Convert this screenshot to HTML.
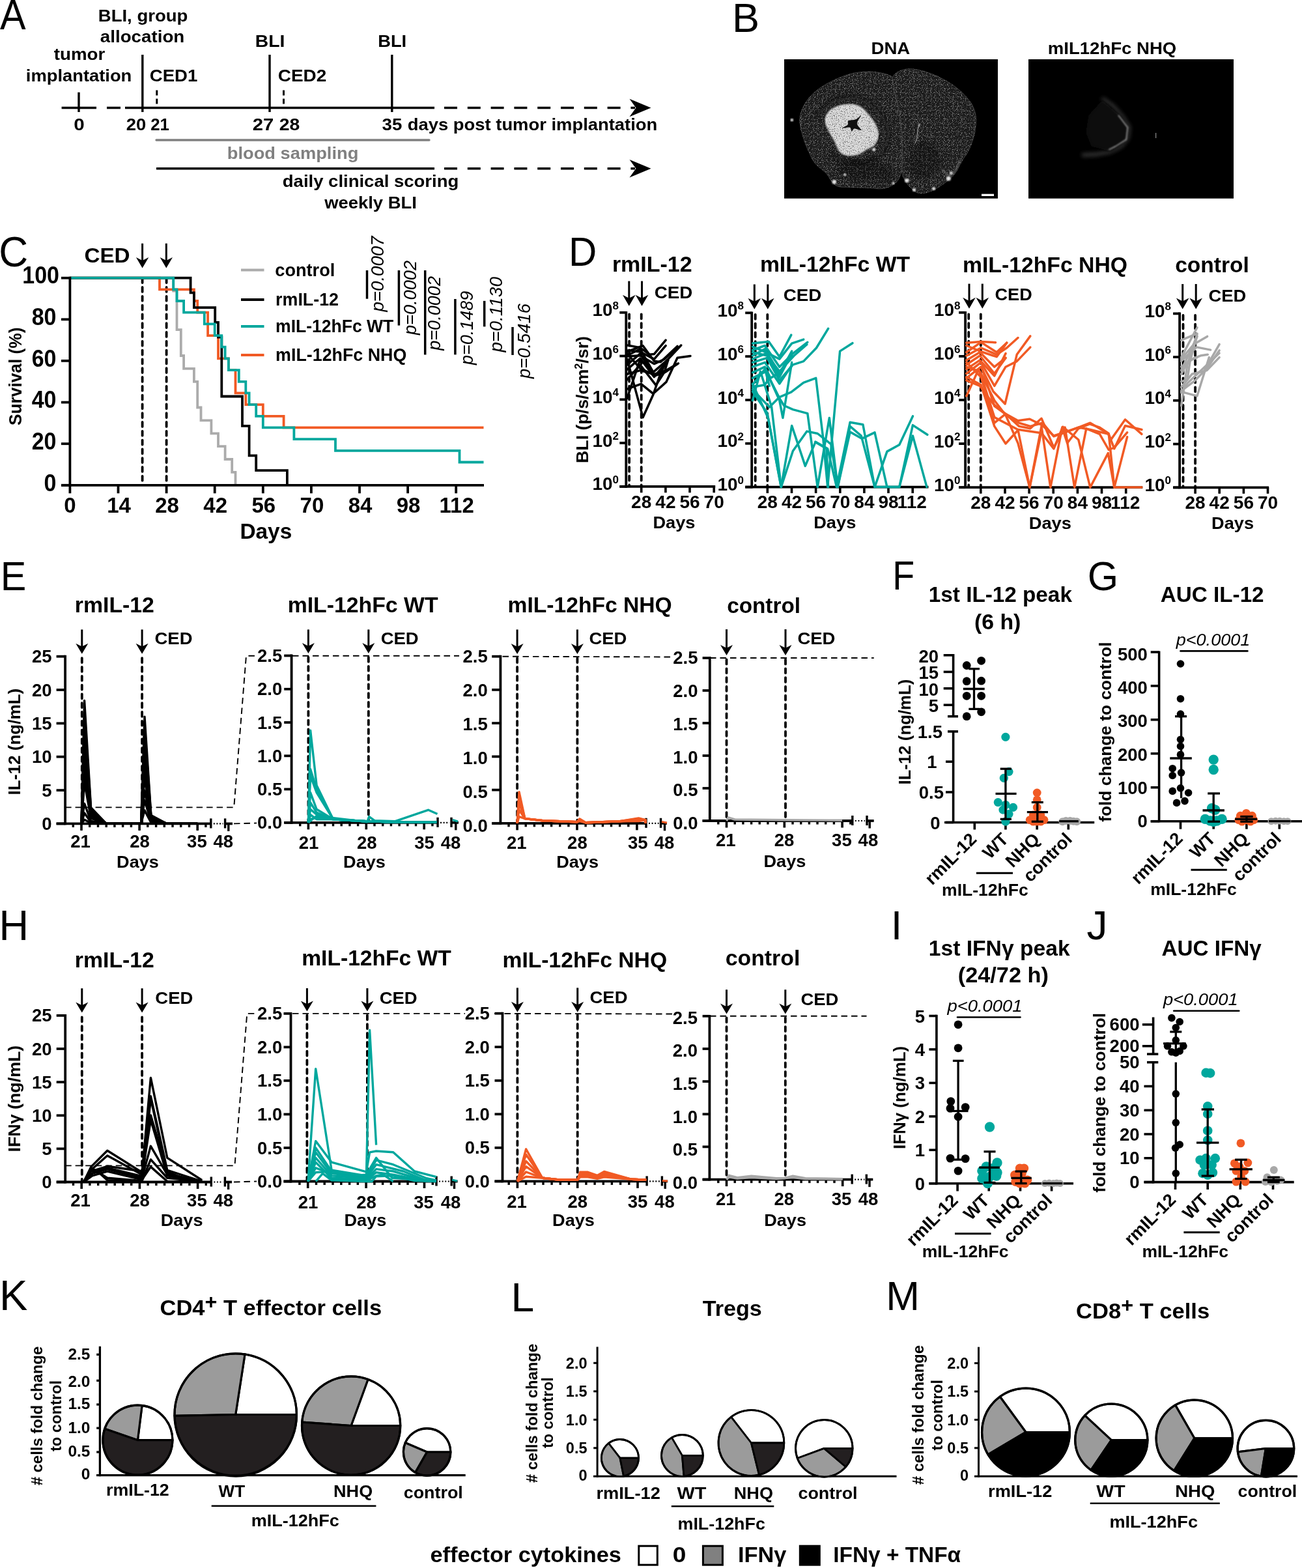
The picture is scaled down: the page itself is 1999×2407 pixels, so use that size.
<!DOCTYPE html>
<html><head><meta charset="utf-8"><title>Figure</title>
<style>html,body{margin:0;padding:0;background:#fff}svg{display:block}text{font-family:"Liberation Sans",sans-serif;font-weight:bold}</style></head>
<body>
<svg width="1999" height="2407" viewBox="0 0 1999 2407">
<rect width="1999" height="2407" fill="#fff"/>
<g id="panelA">
<text x="0.0" y="45.0" font-size="64" style="font-weight:normal;" textLength="39.6" lengthAdjust="spacingAndGlyphs">A</text>
<text x="150.8" y="33.0" font-size="25" textLength="137.5" lengthAdjust="spacingAndGlyphs">BLI, group</text>
<text x="153.8" y="65.0" font-size="25" textLength="129.5" lengthAdjust="spacingAndGlyphs">allocation</text>
<text x="82.8" y="92.0" font-size="25" textLength="78.5" lengthAdjust="spacingAndGlyphs">tumor</text>
<text x="39.8" y="124.5" font-size="25" textLength="162.5" lengthAdjust="spacingAndGlyphs">implantation</text>
<text x="229.8" y="124.5" font-size="25" textLength="73.5" lengthAdjust="spacingAndGlyphs">CED1</text>
<text x="426.8" y="124.5" font-size="25" textLength="74.5" lengthAdjust="spacingAndGlyphs">CED2</text>
<text x="391.8" y="72.0" font-size="25" textLength="45.5" lengthAdjust="spacingAndGlyphs">BLI</text>
<text x="580.2" y="72.0" font-size="25" textLength="44.0" lengthAdjust="spacingAndGlyphs">BLI</text>
<line x1="94.6" y1="165.5" x2="148.0" y2="165.5" stroke="#000" stroke-width="3.4"/>
<line x1="164.0" y1="165.5" x2="213.0" y2="165.5" stroke="#000" stroke-width="3.4" stroke-dasharray="21 7"/>
<line x1="213.0" y1="165.5" x2="667.0" y2="165.5" stroke="#000" stroke-width="3.4"/>
<line x1="682.0" y1="165.5" x2="975.0" y2="165.5" stroke="#000" stroke-width="3.4" stroke-dasharray="20 15.8"/>
<path d="M999.5 165.5 L966.5 151.8 L976.4 165.5 L966.5 179.2 Z" fill="#000"/>
<line x1="121.0" y1="141.7" x2="121.0" y2="172.0" stroke="#000" stroke-width="3.4"/>
<line x1="218.8" y1="84.0" x2="218.8" y2="172.0" stroke="#000" stroke-width="3.4"/>
<line x1="414.0" y1="84.0" x2="414.0" y2="172.0" stroke="#000" stroke-width="3.4"/>
<line x1="601.8" y1="84.0" x2="601.8" y2="172.0" stroke="#000" stroke-width="3.4"/>
<line x1="240.8" y1="138.6" x2="240.8" y2="162.0" stroke="#000" stroke-width="3" stroke-dasharray="8 5"/>
<line x1="435.5" y1="138.6" x2="435.5" y2="162.0" stroke="#000" stroke-width="3" stroke-dasharray="8 5"/>
<text x="113.2" y="199.5" font-size="25" textLength="16.5" lengthAdjust="spacingAndGlyphs">0</text>
<text x="193.8" y="199.5" font-size="25" textLength="30.5" lengthAdjust="spacingAndGlyphs">20</text>
<text x="231.2" y="199.5" font-size="25" textLength="28.7" lengthAdjust="spacingAndGlyphs">21</text>
<text x="387.8" y="199.5" font-size="25" textLength="32.5" lengthAdjust="spacingAndGlyphs">27</text>
<text x="428.8" y="199.5" font-size="25" textLength="31.5" lengthAdjust="spacingAndGlyphs">28</text>
<text x="586.5" y="199.5" font-size="25" textLength="30.8" lengthAdjust="spacingAndGlyphs">35</text>
<text x="625.8" y="199.5" font-size="25" textLength="383.5" lengthAdjust="spacingAndGlyphs">days post tumor implantation</text>
<line x1="240.0" y1="215.0" x2="659.0" y2="215.0" stroke="#808080" stroke-width="3.3" stroke-linecap="round"/>
<text x="348.8" y="243.5" font-size="25" fill="#808080" textLength="201.5" lengthAdjust="spacingAndGlyphs">blood sampling</text>
<line x1="240.0" y1="258.7" x2="667.0" y2="258.7" stroke="#000" stroke-width="3.4"/>
<line x1="682.0" y1="258.7" x2="975.0" y2="258.7" stroke="#000" stroke-width="3.4" stroke-dasharray="20 15.8"/>
<path d="M999.5 258.7 L966.5 245.0 L976.4 258.7 L966.5 272.4 Z" fill="#000"/>
<text x="433.8" y="287.0" font-size="25" textLength="270.5" lengthAdjust="spacingAndGlyphs">daily clinical scoring</text>
<text x="498.2" y="320.0" font-size="25" textLength="141.6" lengthAdjust="spacingAndGlyphs">weekly BLI</text>
</g>
<g id="panelB">
<text x="1124.0" y="49.0" font-size="63" style="font-weight:normal;">B</text>
<text x="1337.5" y="82.5" font-size="25" textLength="59.8" lengthAdjust="spacingAndGlyphs">DNA</text>
<text x="1608.8" y="82.5" font-size="25" textLength="197.5" lengthAdjust="spacingAndGlyphs">mIL12hFc NHQ</text>
<defs>
<filter id="spk" x="0" y="0" width="100%" height="100%"><feTurbulence type="fractalNoise" baseFrequency="0.85" numOctaves="1" seed="3" result="n"/>
<feColorMatrix in="n" type="matrix" values="0 0 0 0 0  0 0 0 0 0  0 0 0 0 0  5 0 0 0 -2.85" result="a"/>
<feComposite in="a" in2="SourceGraphic" operator="in" result="m"/>
<feFlood flood-color="#9a9a9a" result="w"/><feComposite in="w" in2="m" operator="in" result="dots"/>
<feMerge><feMergeNode in="SourceGraphic"/><feMergeNode in="dots"/></feMerge></filter>
<filter id="spk2" x="0" y="0" width="100%" height="100%"><feTurbulence type="fractalNoise" baseFrequency="0.7" numOctaves="2" seed="8" result="n"/>
<feColorMatrix in="n" type="matrix" values="0 0 0 0 0  0 0 0 0 0  0 0 0 0 0  4 0 0 0 -2.05" result="a"/>
<feComposite in="a" in2="SourceGraphic" operator="in" result="m"/>
<feFlood flood-color="#4a4a4a" result="w"/><feComposite in="w" in2="m" operator="in" result="dots"/>
<feMerge><feMergeNode in="SourceGraphic"/><feMergeNode in="dots"/></feMerge></filter>
<filter id="bl1"><feGaussianBlur stdDeviation="1.2"/></filter>
<filter id="bl3"><feGaussianBlur stdDeviation="3"/></filter>
<radialGradient id="arcg" cx="0.2" cy="0.5" r="0.8"><stop offset="0.75" stop-color="#000"/><stop offset="0.93" stop-color="#6a6a6a"/><stop offset="1" stop-color="#000"/></radialGradient>
</defs>
<rect x="1204.0" y="91.0" width="328.0" height="213.7" fill="#000"/>
<g filter="url(#spk)">
<path d="M1369.6 118.2 C1365.4 114.4 1355.5 112.2 1346.9 111.0 C1338.3 109.8 1327.6 109.6 1318.0 111.0 C1308.3 112.3 1299.0 115.1 1289.1 119.2 C1279.1 123.3 1266.7 129.5 1258.1 135.7 C1249.5 141.9 1242.5 149.1 1237.5 156.4 C1232.5 163.6 1229.6 172.5 1228.2 179.1 C1226.8 185.6 1228.2 189.7 1229.2 195.6 C1230.2 201.4 1232.3 208.0 1234.4 214.2 C1236.4 220.4 1238.7 226.5 1241.6 232.7 C1244.5 238.9 1247.4 245.8 1251.9 251.3 C1256.4 256.8 1264.3 261.3 1268.4 265.8 C1272.6 270.2 1273.6 274.7 1276.7 278.1 C1279.8 281.6 1282.2 284.9 1287.0 286.4 C1291.8 287.9 1297.7 287.1 1305.6 287.4 C1313.5 287.8 1326.2 288.1 1334.5 288.5 C1342.7 288.8 1348.9 290.4 1355.1 289.5 C1361.3 288.6 1367.2 286.6 1371.6 283.3 C1376.1 280.0 1379.7 276.9 1382.0 269.9 C1384.2 262.8 1384.7 252.0 1385.0 241.0 C1385.4 230.0 1385.0 216.2 1384.0 203.8 C1383.0 191.5 1380.9 178.4 1378.9 166.7 C1376.8 155.0 1373.2 141.7 1371.6 133.7 C1370.1 125.6 1373.7 122.0 1369.6 118.2 Z" fill="#1e1e1e" stroke="#4a4a4a" stroke-width="0.8"/>
<path d="M1370.6 118.2 C1372.1 114.1 1377.0 111.0 1382.0 108.9 C1386.9 106.8 1392.6 105.1 1400.5 105.8 C1408.4 106.5 1419.8 109.4 1429.4 113.0 C1439.1 116.6 1450.1 122.3 1458.3 127.5 C1466.6 132.6 1473.1 138.1 1479.0 144.0 C1484.8 149.8 1490.1 156.0 1493.4 162.6 C1496.7 169.1 1498.2 175.6 1498.6 183.2 C1498.9 190.8 1497.4 200.1 1495.5 208.0 C1493.6 215.9 1490.3 224.1 1487.2 230.7 C1484.1 237.2 1480.3 241.3 1476.9 247.2 C1473.5 253.0 1470.4 260.6 1466.6 265.8 C1462.8 270.9 1460.0 273.7 1454.2 278.1 C1448.3 282.6 1438.7 289.5 1431.5 292.6 C1424.3 295.7 1416.7 297.8 1410.8 296.7 C1405.0 295.7 1400.0 289.8 1396.4 286.4 C1392.8 283.0 1391.1 279.5 1389.2 276.1 C1387.3 272.6 1385.6 271.6 1385.0 265.8 C1384.5 259.9 1385.7 251.3 1385.7 241.0 C1385.7 230.7 1386.0 216.2 1385.0 203.8 C1384.1 191.5 1382.0 178.4 1379.9 166.7 C1377.8 155.0 1374.2 141.7 1372.7 133.7 C1371.1 125.6 1369.1 122.3 1370.6 118.2 Z" fill="#1c1c1c" stroke="#4a4a4a" stroke-width="0.8"/>
</g>
<path d="M1251.9 177.0 L1272.6 156.4 L1305.6 148.1 L1334.5 156.4 L1355.1 177.0 L1365.4 201.8 L1361.3 224.5 L1346.9 243.1 L1322.1 249.2 L1293.2 249.2 L1276.7 236.9" fill="none" stroke="#0c0c0c" stroke-opacity="0.55" stroke-width="5" filter="url(#bl3)"/>
<path d="M1287.0 251.3 L1313.8 245.1 L1355.1 249.2 L1375.8 265.8 L1367.5 278.1 L1313.8 278.1 L1289.1 265.8 Z" fill="#000" fill-opacity="0.28" filter="url(#bl3)"/>
<path d="M1396.4 224.5 L1417.0 214.2 L1437.7 224.5 L1448.0 255.4 L1417.0 276.1 L1396.4 265.8 Z" fill="#000" fill-opacity="0.28" filter="url(#bl3)"/>
<g filter="url(#spk2)">
<path d="M1272.6 170.8 C1276.0 167.0 1281.5 164.5 1287.0 162.6 C1292.5 160.7 1299.7 159.1 1305.6 159.5 C1311.4 159.8 1317.3 161.7 1322.1 164.6 C1326.9 167.5 1330.7 172.5 1334.5 177.0 C1338.3 181.5 1342.4 186.3 1344.8 191.5 C1347.2 196.6 1349.3 202.8 1348.9 208.0 C1348.6 213.1 1345.5 219.0 1342.7 222.4 C1340.0 225.9 1336.5 226.2 1332.4 228.6 C1328.3 231.0 1323.1 235.1 1318.0 236.9 C1312.8 238.6 1306.3 239.6 1301.5 238.9 C1296.6 238.2 1292.5 236.5 1289.1 232.7 C1285.6 229.0 1283.6 221.4 1280.8 216.2 C1278.1 211.1 1275.0 206.9 1272.6 201.8 C1270.2 196.6 1266.4 190.4 1266.4 185.3 C1266.4 180.1 1269.1 174.6 1272.6 170.8 Z" fill="#dcdcdc" filter="url(#bl1)"/>
</g>
<path d="M1302.5 185.3 C1304.6 183.9 1310.6 184.6 1313.8 183.2 C1317.1 181.8 1321.8 176.0 1322.1 177.0 C1322.4 178.0 1315.9 185.6 1315.9 189.4 C1315.9 193.2 1322.8 198.3 1322.1 199.7 C1321.4 201.1 1314.2 197.3 1311.8 197.6 C1309.4 198.0 1308.9 202.1 1307.6 201.8 C1306.4 201.4 1307.0 196.4 1304.6 195.6 C1302.1 194.7 1293.7 197.3 1293.2 196.6 C1292.7 195.9 1299.9 193.3 1301.5 191.5 C1303.0 189.6 1300.4 186.6 1302.5 185.3 Z" fill="#111" />
<path d="M1258.1 172.9 L1282.9 154.3 L1313.8 150.2 L1338.6 162.6 L1357.2 183.2 L1365.4 203.8 L1359.2 224.5 L1346.9 238.9" fill="none" stroke="#3a3a3a" stroke-width="1.5" filter="url(#bl1)"/>
<circle cx="1280.8" cy="279.2" r="3.2" fill="#e8e8e8" filter="url(#bl1)"/>
<circle cx="1297.3" cy="268.2" r="2" fill="#e8e8e8" filter="url(#bl1)"/>
<circle cx="1392.3" cy="277.1" r="3.2" fill="#e8e8e8" filter="url(#bl1)"/>
<circle cx="1403.6" cy="291.6" r="2.5" fill="#e8e8e8" filter="url(#bl1)"/>
<circle cx="1433.6" cy="289.5" r="2.5" fill="#e8e8e8" filter="url(#bl1)"/>
<circle cx="1456.3" cy="274.0" r="3.5" fill="#e8e8e8" filter="url(#bl1)"/>
<circle cx="1460.4" cy="265.8" r="2.5" fill="#e8e8e8" filter="url(#bl1)"/>
<circle cx="1371.6" cy="281.2" r="2" fill="#e8e8e8" filter="url(#bl1)"/>
<circle cx="1215.8" cy="184.2" r="2.2" fill="#e8e8e8" filter="url(#bl1)"/>
<circle cx="1341.7" cy="229.6" r="2.5" fill="#e8e8e8" filter="url(#bl1)"/>
<circle cx="1410.8" cy="192.5" r="1.5" fill="#e8e8e8" filter="url(#bl1)"/>
<path d="M1412.9 189.4 L1409.2 197.6 L1407.8 212.1 L1404.7 220.4" fill="none" stroke="#999" stroke-width="1.2"/>
<path d="M1445.9 259.6 L1456.3 269.9 L1464.5 265.8 L1474.8 245.1" fill="none" stroke="#777" stroke-width="1.5" filter="url(#bl1)"/>
<rect x="1507.0" y="297.7" width="19.0" height="3.3" fill="#fff"/>
<rect x="1579.0" y="91.0" width="315.0" height="213.7" fill="#000"/>
<path d="M1692.1 151.2 L1708.6 162.6 L1723.1 179.1 L1733.4 195.6 L1731.3 212.1 L1721.0 224.5 L1704.5 232.7 L1683.8 236.9 L1661.1 237.9" fill="none" stroke="#4a4a4a" stroke-width="4" filter="url(#bl3)" stroke-linejoin="round"/>
<path d="M1716.9 177.0 L1731.3 195.6 L1729.2 214.2 L1712.7 224.5 L1702.4 229.6" fill="none" stroke="#777" stroke-width="2" filter="url(#bl1)" stroke-linejoin="round"/>
<path d="M1692.1 154.3 L1721.0 179.1 L1731.3 197.6 L1729.2 214.2 L1704.5 231.7 L1675.6 224.5 L1667.3 203.8 L1671.5 177.0 Z" fill="#101010" filter="url(#bl3)"/>
<path d="M1716.9 177.0 L1731.3 195.6 L1729.2 214.2 L1712.7 224.5 L1702.4 229.6" fill="none" stroke="#8a8a8a" stroke-width="1.4" filter="url(#bl1)" stroke-linejoin="round"/>
<line x1="1774.7" y1="204.0" x2="1774.7" y2="212.0" stroke="#aaa" stroke-width="1"/>
</g>
<g id="panelC">
<text x="-1.7" y="409.3" font-size="64" style="font-weight:normal;" textLength="44.9" lengthAdjust="spacingAndGlyphs">C</text>
<line x1="218.6" y1="427.2" x2="218.6" y2="742.8" stroke="#000" stroke-width="3.8" stroke-dasharray="6.9 6.9" stroke-linecap="round"/>
<line x1="255.6" y1="427.2" x2="255.6" y2="742.8" stroke="#000" stroke-width="3.8" stroke-dasharray="6.9 6.9" stroke-linecap="round"/>
<path d="M107.4 426.7 L266.2 426.7 L266.2 446.6 L271.5 446.6 L271.5 506.2 L277.8 506.2 L277.8 546.0 L282.1 546.0 L282.1 565.9 L297.9 565.9 L297.9 585.8 L303.2 585.8 L303.2 625.5 L308.5 625.5 L308.5 645.4 L324.4 645.4 L324.4 665.3 L335.0 665.3 L335.0 685.2 L345.6 685.2 L345.6 705.0 L356.2 705.0 L356.2 724.9 L361.5 724.9 L361.5 744.8" stroke="#ABABAB" stroke-width="3.8" fill="none" stroke-linejoin="miter"/>
<path d="M107.4 426.7 L245.0 426.7 L245.0 444.4 L297.9 444.4 L297.9 462.0 L303.2 462.0 L303.2 479.7 L319.1 479.7 L319.1 515.1 L335.0 515.1 L335.0 550.4 L350.9 550.4 L350.9 568.1 L361.5 568.1 L361.5 603.4 L377.3 603.4 L377.3 621.1 L403.8 621.1 L403.8 638.8 L435.6 638.8 L435.6 656.4 L742.5 656.4" stroke="#F15A24" stroke-width="3.8" fill="none" stroke-linejoin="miter"/>
<path d="M107.4 426.7 L292.6 426.7 L292.6 449.4 L297.9 449.4 L297.9 472.1 L330.2 472.1 L330.2 494.9 L335.0 494.9 L335.0 517.6 L340.3 517.6 L340.3 608.5 L372.0 608.5 L372.0 653.9 L382.6 653.9 L382.6 699.4 L393.2 699.4 L393.2 722.1 L440.9 722.1 L440.9 744.8" stroke="#000" stroke-width="3.8" fill="none" stroke-linejoin="miter"/>
<path d="M107.4 426.7 L266.2 426.7 L266.2 444.4 L271.5 444.4 L271.5 462.0 L282.1 462.0 L282.1 479.7 L313.8 479.7 L313.8 497.4 L329.7 497.4 L329.7 515.1 L340.3 515.1 L340.3 532.7 L345.6 532.7 L345.6 550.4 L350.9 550.4 L350.9 568.1 L366.8 568.1 L366.8 585.8 L377.3 585.8 L377.3 603.4 L382.6 603.4 L382.6 621.1 L393.2 621.1 L393.2 638.8 L403.8 638.8 L403.8 656.4 L451.4 656.4 L451.4 674.1 L515.0 674.1 L515.0 691.8 L705.5 691.8 L705.5 709.5 L742.5 709.5" stroke="#00A79D" stroke-width="3.8" fill="none" stroke-linejoin="miter"/>
<line x1="107.4" y1="424.8" x2="107.4" y2="746.7" stroke="#000" stroke-width="3.8"/>
<line x1="94.0" y1="744.8" x2="743.0" y2="744.8" stroke="#000" stroke-width="3.8"/>
<line x1="94.0" y1="744.8" x2="107.4" y2="744.8" stroke="#000" stroke-width="3.8"/>
<text x="67.6" y="753.5" font-size="36.5" textLength="18.9" lengthAdjust="spacingAndGlyphs">0</text>
<line x1="94.0" y1="681.2" x2="107.4" y2="681.2" stroke="#000" stroke-width="3.8"/>
<text x="48.7" y="689.9" font-size="36.5" textLength="37.8" lengthAdjust="spacingAndGlyphs">20</text>
<line x1="94.0" y1="617.6" x2="107.4" y2="617.6" stroke="#000" stroke-width="3.8"/>
<text x="48.7" y="626.3" font-size="36.5" textLength="37.8" lengthAdjust="spacingAndGlyphs">40</text>
<line x1="94.0" y1="553.9" x2="107.4" y2="553.9" stroke="#000" stroke-width="3.8"/>
<text x="48.7" y="562.6" font-size="36.5" textLength="37.8" lengthAdjust="spacingAndGlyphs">60</text>
<line x1="94.0" y1="490.3" x2="107.4" y2="490.3" stroke="#000" stroke-width="3.8"/>
<text x="48.7" y="499.0" font-size="36.5" textLength="37.8" lengthAdjust="spacingAndGlyphs">80</text>
<line x1="94.0" y1="426.7" x2="107.4" y2="426.7" stroke="#000" stroke-width="3.8"/>
<text x="34.3" y="435.4" font-size="36.5" textLength="56.7" lengthAdjust="spacingAndGlyphs">100</text>
<line x1="107.4" y1="744.8" x2="107.4" y2="757.3" stroke="#000" stroke-width="3.8"/>
<text x="107.4" y="786.9" font-size="33" text-anchor="middle">0</text>
<line x1="181.5" y1="744.8" x2="181.5" y2="757.3" stroke="#000" stroke-width="3.8"/>
<text x="182.5" y="786.9" font-size="33" text-anchor="middle">14</text>
<line x1="255.6" y1="744.8" x2="255.6" y2="757.3" stroke="#000" stroke-width="3.8"/>
<text x="256.6" y="786.9" font-size="33" text-anchor="middle">28</text>
<line x1="329.7" y1="744.8" x2="329.7" y2="757.3" stroke="#000" stroke-width="3.8"/>
<text x="330.7" y="786.9" font-size="33" text-anchor="middle">42</text>
<line x1="403.8" y1="744.8" x2="403.8" y2="757.3" stroke="#000" stroke-width="3.8"/>
<text x="404.8" y="786.9" font-size="33" text-anchor="middle">56</text>
<line x1="477.9" y1="744.8" x2="477.9" y2="757.3" stroke="#000" stroke-width="3.8"/>
<text x="478.9" y="786.9" font-size="33" text-anchor="middle">70</text>
<line x1="552.0" y1="744.8" x2="552.0" y2="757.3" stroke="#000" stroke-width="3.8"/>
<text x="553.0" y="786.9" font-size="33" text-anchor="middle">84</text>
<line x1="626.1" y1="744.8" x2="626.1" y2="757.3" stroke="#000" stroke-width="3.8"/>
<text x="627.1" y="786.9" font-size="33" text-anchor="middle">98</text>
<line x1="700.2" y1="744.8" x2="700.2" y2="757.3" stroke="#000" stroke-width="3.8"/>
<text x="701.2" y="786.9" font-size="33" text-anchor="middle">112</text>
<text x="368.4" y="826.7" font-size="33" textLength="79.8" lengthAdjust="spacingAndGlyphs">Days</text>
<text x="33.4" y="653.0" font-size="27" transform="rotate(-90 33.4 653.0)" textLength="150.5" lengthAdjust="spacingAndGlyphs">Survival (%)</text>
<text x="129.4" y="403.0" font-size="32" textLength="70.2" lengthAdjust="spacingAndGlyphs">CED</text>
<line x1="218.6" y1="373.7" x2="218.6" y2="401.7" stroke="#000" stroke-width="3"/>
<path d="M218.6 411.6 L208.9 395.1 L218.6 400.1 L228.3 395.1 Z" fill="#000"/>
<line x1="255.3" y1="373.7" x2="255.3" y2="401.7" stroke="#000" stroke-width="3"/>
<path d="M255.3 411.6 L245.6 395.1 L255.3 400.1 L265.0 395.1 Z" fill="#000"/>
<line x1="370.0" y1="414.5" x2="405.5" y2="414.5" stroke="#ABABAB" stroke-width="3.8"/>
<line x1="370.0" y1="460.0" x2="405.5" y2="460.0" stroke="#000" stroke-width="3.8"/>
<line x1="370.0" y1="501.0" x2="405.5" y2="501.0" stroke="#00A79D" stroke-width="3.8"/>
<line x1="370.0" y1="545.0" x2="405.5" y2="545.0" stroke="#F15A24" stroke-width="3.8"/>
<text x="422.3" y="423.9" font-size="27" textLength="92.0" lengthAdjust="spacingAndGlyphs">control</text>
<text x="423.1" y="468.7" font-size="27" textLength="96.9" lengthAdjust="spacingAndGlyphs">rmIL-12</text>
<text x="423.1" y="510.0" font-size="27" textLength="181.2" lengthAdjust="spacingAndGlyphs">mIL-12hFc WT</text>
<text x="423.1" y="553.6" font-size="27" textLength="201.2" lengthAdjust="spacingAndGlyphs">mIL-12hFc NHQ</text>
<line x1="563.5" y1="415.0" x2="563.5" y2="458.7" stroke="#000" stroke-width="3.5"/>
<line x1="612.4" y1="415.0" x2="612.4" y2="499.6" stroke="#000" stroke-width="3.5"/>
<line x1="652.7" y1="415.0" x2="652.7" y2="544.4" stroke="#000" stroke-width="3.5"/>
<line x1="698.9" y1="459.0" x2="698.9" y2="544.4" stroke="#000" stroke-width="3.5"/>
<line x1="743.7" y1="461.9" x2="743.7" y2="501.4" stroke="#000" stroke-width="3.5"/>
<line x1="787.0" y1="502.0" x2="787.0" y2="545.0" stroke="#000" stroke-width="3.5"/>
<text x="588.6" y="478.5" font-size="27" style="font-weight:normal;font-style:italic;" transform="rotate(-90 588.6 478.5)" textLength="116.1" lengthAdjust="spacingAndGlyphs">p=0.0007</text>
<text x="638.7" y="514.0" font-size="27" style="font-weight:normal;font-style:italic;" transform="rotate(-90 638.7 514.0)" textLength="114.0" lengthAdjust="spacingAndGlyphs">p=0.0002</text>
<text x="676.4" y="537.8" font-size="27" style="font-weight:normal;font-style:italic;" transform="rotate(-90 676.4 537.8)" textLength="113.8" lengthAdjust="spacingAndGlyphs">p=0.0002</text>
<text x="725.8" y="560.0" font-size="27" style="font-weight:normal;font-style:italic;" transform="rotate(-90 725.8 560.0)" textLength="113.2" lengthAdjust="spacingAndGlyphs">p=0.1489</text>
<text x="770.6" y="540.5" font-size="27" style="font-weight:normal;font-style:italic;" transform="rotate(-90 770.6 540.5)" textLength="115.5" lengthAdjust="spacingAndGlyphs">p=0.1130</text>
<text x="813.6" y="581.0" font-size="27" style="font-weight:normal;font-style:italic;" transform="rotate(-90 813.6 581.0)" textLength="115.0" lengthAdjust="spacingAndGlyphs">p=0.5416</text>
</g>
<g id="panelD">
<text x="872.9" y="408.0" font-size="63" style="font-weight:normal;" textLength="43.3" lengthAdjust="spacingAndGlyphs">D</text>
<text x="903.0" y="711.0" font-size="26" transform="rotate(-90 903.0 711.0)" textLength="195.0" lengthAdjust="spacingAndGlyphs">BLI (p/s/cm<tspan font-size="16" dy="-9">2</tspan><tspan dy="9">/sr)</tspan></text>
<line x1="966.1" y1="482.3" x2="966.1" y2="744.8" stroke="#000" stroke-width="3.8" stroke-dasharray="6.9 6.9" stroke-linecap="round"/>
<line x1="984.7" y1="482.3" x2="984.7" y2="744.8" stroke="#000" stroke-width="3.8" stroke-dasharray="6.9 6.9" stroke-linecap="round"/>
<line x1="961.3" y1="477.9" x2="961.3" y2="748.7" stroke="#000" stroke-width="3.8"/>
<line x1="951.3" y1="746.8" x2="1098.2" y2="746.8" stroke="#000" stroke-width="3.8"/>
<line x1="951.3" y1="479.8" x2="961.3" y2="479.8" stroke="#000" stroke-width="3.8"/>
<text x="950.0" y="485.3" font-size="28" text-anchor="end">10<tspan font-size="17" dy="-10.5">8</tspan></text>
<line x1="951.3" y1="546.5" x2="961.3" y2="546.5" stroke="#000" stroke-width="3.8"/>
<text x="950.0" y="552.0" font-size="28" text-anchor="end">10<tspan font-size="17" dy="-10.5">6</tspan></text>
<line x1="951.3" y1="613.3" x2="961.3" y2="613.3" stroke="#000" stroke-width="3.8"/>
<text x="950.0" y="618.8" font-size="28" text-anchor="end">10<tspan font-size="17" dy="-10.5">4</tspan></text>
<line x1="951.3" y1="680.0" x2="961.3" y2="680.0" stroke="#000" stroke-width="3.8"/>
<text x="950.0" y="685.5" font-size="28" text-anchor="end">10<tspan font-size="17" dy="-10.5">2</tspan></text>
<line x1="951.3" y1="746.8" x2="961.3" y2="746.8" stroke="#000" stroke-width="3.8"/>
<text x="950.0" y="752.3" font-size="28" text-anchor="end">10<tspan font-size="17" dy="-10.5">0</tspan></text>
<line x1="984.7" y1="746.8" x2="984.7" y2="756.3" stroke="#000" stroke-width="3.6"/>
<line x1="1021.9" y1="746.8" x2="1021.9" y2="756.3" stroke="#000" stroke-width="3.6"/>
<line x1="1059.0" y1="746.8" x2="1059.0" y2="756.3" stroke="#000" stroke-width="3.6"/>
<line x1="1096.2" y1="746.8" x2="1096.2" y2="756.3" stroke="#000" stroke-width="3.6"/>
<path d="M962.9 530.0 L982.9 533.6 L997.1 544.3 L1004.3 543.6 L1022.1 522.1" stroke="#000" stroke-width="3.5" fill="none" stroke-linejoin="round" stroke-linecap="round"/>
<path d="M962.9 537.9 L982.9 540.0 L1004.3 551.4 L1022.1 530.7" stroke="#000" stroke-width="3.5" fill="none" stroke-linejoin="round" stroke-linecap="round"/>
<path d="M962.9 540.0 L987.1 530.7 L1004.3 554.3 L1014.3 555.7 L1040.0 531.4" stroke="#000" stroke-width="3.5" fill="none" stroke-linejoin="round" stroke-linecap="round"/>
<path d="M962.9 545.7 L982.9 535.7 L1002.9 571.4 L1024.3 552.9 L1045.7 530.0" stroke="#000" stroke-width="3.5" fill="none" stroke-linejoin="round" stroke-linecap="round"/>
<path d="M962.9 547.1 L982.9 545.7 L1004.3 558.6 L1020.0 551.4 L1040.0 532.9" stroke="#000" stroke-width="3.5" fill="none" stroke-linejoin="round" stroke-linecap="round"/>
<path d="M962.9 560.0 L982.9 542.9 L1004.3 577.1 L1021.4 571.4 L1041.4 557.9" stroke="#000" stroke-width="3.5" fill="none" stroke-linejoin="round" stroke-linecap="round"/>
<path d="M962.9 567.1 L982.9 550.0 L1004.3 578.6 L1025.7 552.9" stroke="#000" stroke-width="3.5" fill="none" stroke-linejoin="round" stroke-linecap="round"/>
<path d="M962.9 574.3 L982.9 568.6 L1004.3 574.3 L1022.9 568.6 L1040.0 558.6" stroke="#000" stroke-width="3.5" fill="none" stroke-linejoin="round" stroke-linecap="round"/>
<path d="M962.9 582.9 L982.9 560.0 L1007.1 591.4 L1020.0 571.4 L1025.7 552.9" stroke="#000" stroke-width="3.5" fill="none" stroke-linejoin="round" stroke-linecap="round"/>
<path d="M962.9 597.1 L984.3 589.3 L1002.9 604.3 L1022.9 586.4 L1040.0 549.3 L1060.0 546.4" stroke="#000" stroke-width="3.5" fill="none" stroke-linejoin="round" stroke-linecap="round"/>
<path d="M962.9 611.4 L982.9 551.4 L1002.9 572.9" stroke="#000" stroke-width="3.5" fill="none" stroke-linejoin="round" stroke-linecap="round"/>
<path d="M962.9 551.4 L987.1 640.7 L1002.9 605.7 L1014.3 572.9 L1024.3 552.9" stroke="#000" stroke-width="3.5" fill="none" stroke-linejoin="round" stroke-linecap="round"/>
<path d="M962.9 542.9 L982.9 565.7 L1004.3 575.7" stroke="#000" stroke-width="3.5" fill="none" stroke-linejoin="round" stroke-linecap="round"/>
<text x="939.9" y="417.0" font-size="33" textLength="122.8" lengthAdjust="spacingAndGlyphs">rmIL-12</text>
<text x="984.7" y="779.7" font-size="28" text-anchor="middle">28</text>
<text x="1021.9" y="779.7" font-size="28" text-anchor="middle">42</text>
<text x="1059.0" y="779.7" font-size="28" text-anchor="middle">56</text>
<text x="1096.2" y="779.7" font-size="28" text-anchor="middle">70</text>
<text x="1002.4" y="810.6" font-size="26" textLength="65.1" lengthAdjust="spacingAndGlyphs">Days</text>
<text x="1004.7" y="458.0" font-size="26" textLength="58.6" lengthAdjust="spacingAndGlyphs">CED</text>
<line x1="965.8" y1="431.5" x2="965.8" y2="459.5" stroke="#000" stroke-width="3"/>
<path d="M965.8 469.7 L956.0 452.7 L965.8 457.8 L975.6 452.7 Z" fill="#000"/>
<line x1="985.5" y1="431.5" x2="985.5" y2="459.5" stroke="#000" stroke-width="3"/>
<path d="M985.5 469.7 L975.7 452.7 L985.5 457.8 L995.3 452.7 Z" fill="#000"/>
<line x1="1159.7" y1="482.8" x2="1159.7" y2="745.6" stroke="#000" stroke-width="3.8" stroke-dasharray="6.9 6.9" stroke-linecap="round"/>
<line x1="1178.3" y1="482.8" x2="1178.3" y2="745.6" stroke="#000" stroke-width="3.8" stroke-dasharray="6.9 6.9" stroke-linecap="round"/>
<line x1="1154.2" y1="478.4" x2="1154.2" y2="749.5" stroke="#000" stroke-width="3.8"/>
<line x1="1144.2" y1="747.6" x2="1425.5" y2="747.6" stroke="#000" stroke-width="3.8"/>
<line x1="1144.2" y1="480.3" x2="1154.2" y2="480.3" stroke="#000" stroke-width="3.8"/>
<text x="1142.0" y="485.8" font-size="28" text-anchor="end">10<tspan font-size="17" dy="-10.5">8</tspan></text>
<line x1="1144.2" y1="547.1" x2="1154.2" y2="547.1" stroke="#000" stroke-width="3.8"/>
<text x="1142.0" y="552.6" font-size="28" text-anchor="end">10<tspan font-size="17" dy="-10.5">6</tspan></text>
<line x1="1144.2" y1="614.0" x2="1154.2" y2="614.0" stroke="#000" stroke-width="3.8"/>
<text x="1142.0" y="619.5" font-size="28" text-anchor="end">10<tspan font-size="17" dy="-10.5">4</tspan></text>
<line x1="1144.2" y1="680.8" x2="1154.2" y2="680.8" stroke="#000" stroke-width="3.8"/>
<text x="1142.0" y="686.3" font-size="28" text-anchor="end">10<tspan font-size="17" dy="-10.5">2</tspan></text>
<line x1="1144.2" y1="747.6" x2="1154.2" y2="747.6" stroke="#000" stroke-width="3.8"/>
<text x="1142.0" y="753.1" font-size="28" text-anchor="end">10<tspan font-size="17" dy="-10.5">0</tspan></text>
<line x1="1178.3" y1="747.6" x2="1178.3" y2="757.1" stroke="#000" stroke-width="3.6"/>
<line x1="1215.5" y1="747.6" x2="1215.5" y2="757.1" stroke="#000" stroke-width="3.6"/>
<line x1="1252.6" y1="747.6" x2="1252.6" y2="757.1" stroke="#000" stroke-width="3.6"/>
<line x1="1289.8" y1="747.6" x2="1289.8" y2="757.1" stroke="#000" stroke-width="3.6"/>
<line x1="1326.9" y1="747.6" x2="1326.9" y2="757.1" stroke="#000" stroke-width="3.6"/>
<line x1="1364.0" y1="747.6" x2="1364.0" y2="757.1" stroke="#000" stroke-width="3.6"/>
<line x1="1401.2" y1="747.6" x2="1401.2" y2="757.1" stroke="#000" stroke-width="3.6"/>
<path d="M1155.5 527.1 L1180.4 524.5 L1196.8 547.7 L1214.8 514.2" stroke="#00A79D" stroke-width="3.5" fill="none" stroke-linejoin="round" stroke-linecap="round"/>
<path d="M1155.5 532.2 L1176.1 540.8 L1196.8 551.2 L1215.7 527.1 L1233.7 521.1" stroke="#00A79D" stroke-width="3.5" fill="none" stroke-linejoin="round" stroke-linecap="round"/>
<path d="M1155.5 537.4 L1174.4 530.5 L1196.8 563.2 L1217.4 542.6 L1239.8 525.4" stroke="#00A79D" stroke-width="3.5" fill="none" stroke-linejoin="round" stroke-linecap="round"/>
<path d="M1155.5 540.8 L1177.8 546.0 L1196.8 570.1 L1219.1 546.0 L1238.9 528.8" stroke="#00A79D" stroke-width="3.5" fill="none" stroke-linejoin="round" stroke-linecap="round"/>
<path d="M1155.5 546.0 L1174.4 535.7 L1196.8 573.5 L1215.7 539.1" stroke="#00A79D" stroke-width="3.5" fill="none" stroke-linejoin="round" stroke-linecap="round"/>
<path d="M1155.5 551.2 L1176.1 542.6 L1196.8 578.7 L1215.7 542.6" stroke="#00A79D" stroke-width="3.5" fill="none" stroke-linejoin="round" stroke-linecap="round"/>
<path d="M1155.5 556.3 L1177.8 549.4 L1196.8 583.8 L1217.4 559.8 L1233.7 554.6 L1253.5 534.0 L1271.6 504.4" stroke="#00A79D" stroke-width="3.5" fill="none" stroke-linejoin="round" stroke-linecap="round"/>
<path d="M1155.5 563.2 L1174.4 556.3 L1196.8 589.0 L1214.0 563.2" stroke="#00A79D" stroke-width="3.5" fill="none" stroke-linejoin="round" stroke-linecap="round"/>
<path d="M1155.5 571.8 L1174.4 563.2 L1183.0 580.4 L1196.8 571.8 L1215.7 546.0" stroke="#00A79D" stroke-width="3.5" fill="none" stroke-linejoin="round" stroke-linecap="round"/>
<path d="M1155.5 590.7 L1174.4 566.6 L1181.3 592.4" stroke="#00A79D" stroke-width="3.5" fill="none" stroke-linejoin="round" stroke-linecap="round"/>
<path d="M1155.5 594.2 L1174.4 590.7 L1181.3 580.4 L1196.8 614.8 L1201.9 641.5 L1215.7 556.3" stroke="#00A79D" stroke-width="3.5" fill="none" stroke-linejoin="round" stroke-linecap="round"/>
<path d="M1155.5 597.6 L1181.3 625.1 L1196.8 609.6 L1214.8 601.9 L1233.7 587.3 L1252.7 580.4 L1263.8 673.3 L1270.7 747.6 L1289.6 539.1 L1308.9 526.7" stroke="#00A79D" stroke-width="3.5" fill="none" stroke-linejoin="round" stroke-linecap="round"/>
<path d="M1155.5 589.0 L1179.6 642.3 L1199.3 747.6 L1215.7 653.5 L1236.3 715.4 L1252.1 678.4 L1270.7 688.8 L1284.5 747.6 L1305.1 648.3 L1324.9 651.8 L1343.0 747.6 L1361.9 747.6 L1380.8 747.6 L1401.4 669.0 L1422.9 747.6" stroke="#00A79D" stroke-width="3.5" fill="none" stroke-linejoin="round" stroke-linecap="round"/>
<path d="M1155.5 614.8 L1167.5 570.1 L1184.7 625.1 L1199.3 747.6 L1217.4 692.2 L1238.9 662.1 L1255.2 665.5 L1275.9 681.9 L1286.2 747.6 L1305.1 654.4 L1322.3 669.0 L1343.0 747.6 L1361.9 693.1 L1380.8 682.7 L1401.4 638.9" stroke="#00A79D" stroke-width="3.5" fill="none" stroke-linejoin="round" stroke-linecap="round"/>
<path d="M1155.5 580.4 L1176.1 570.1 L1196.8 611.4 L1203.6 622.5 L1217.4 628.6 L1239.8 634.6 L1255.2 747.6 L1273.3 641.5 L1286.2 747.6 L1305.1 663.0 L1323.2 673.3 L1343.0 663.8 L1361.9 747.6 L1380.8 747.6 L1401.4 652.6 L1423.8 667.3" stroke="#00A79D" stroke-width="3.5" fill="none" stroke-linejoin="round" stroke-linecap="round"/>
<path d="M1155.5 601.0 L1177.8 633.7 L1199.3 747.6" stroke="#00A79D" stroke-width="3.5" fill="none" stroke-linejoin="round" stroke-linecap="round"/>
<path d="M1251.8 678.4 L1269.0 688.8 L1271.6 747.6" stroke="#00A79D" stroke-width="3.5" fill="none" stroke-linejoin="round" stroke-linecap="round"/>
<text x="1166.9" y="417.0" font-size="33" textLength="230.2" lengthAdjust="spacingAndGlyphs">mIL-12hFc WT</text>
<text x="1178.3" y="779.7" font-size="28" text-anchor="middle">28</text>
<text x="1215.5" y="779.7" font-size="28" text-anchor="middle">42</text>
<text x="1252.6" y="779.7" font-size="28" text-anchor="middle">56</text>
<text x="1289.8" y="779.7" font-size="28" text-anchor="middle">70</text>
<text x="1326.9" y="779.7" font-size="28" text-anchor="middle">84</text>
<text x="1364.0" y="779.7" font-size="28" text-anchor="middle">98</text>
<text x="1400.2" y="779.7" font-size="28" text-anchor="middle">112</text>
<text x="1249.2" y="810.6" font-size="26" textLength="65.1" lengthAdjust="spacingAndGlyphs">Days</text>
<text x="1202.7" y="462.0" font-size="26" textLength="58.6" lengthAdjust="spacingAndGlyphs">CED</text>
<line x1="1158.3" y1="436.5" x2="1158.3" y2="464.5" stroke="#000" stroke-width="3"/>
<path d="M1158.3 474.7 L1148.5 457.7 L1158.3 462.8 L1168.1 457.7 Z" fill="#000"/>
<line x1="1178.8" y1="436.5" x2="1178.8" y2="464.5" stroke="#000" stroke-width="3"/>
<path d="M1178.8 474.7 L1169.0 457.7 L1178.8 462.8 L1188.6 457.7 Z" fill="#000"/>
<line x1="1487.2" y1="482.3" x2="1487.2" y2="746.2" stroke="#000" stroke-width="3.8" stroke-dasharray="6.9 6.9" stroke-linecap="round"/>
<line x1="1505.8" y1="482.3" x2="1505.8" y2="746.2" stroke="#000" stroke-width="3.8" stroke-dasharray="6.9 6.9" stroke-linecap="round"/>
<line x1="1482.1" y1="477.9" x2="1482.1" y2="750.1" stroke="#000" stroke-width="3.8"/>
<line x1="1472.1" y1="748.2" x2="1754.2" y2="748.2" stroke="#000" stroke-width="3.8"/>
<line x1="1472.1" y1="479.8" x2="1482.1" y2="479.8" stroke="#000" stroke-width="3.8"/>
<text x="1474.5" y="485.3" font-size="28" text-anchor="end">10<tspan font-size="17" dy="-10.5">8</tspan></text>
<line x1="1472.1" y1="546.9" x2="1482.1" y2="546.9" stroke="#000" stroke-width="3.8"/>
<text x="1474.5" y="552.4" font-size="28" text-anchor="end">10<tspan font-size="17" dy="-10.5">6</tspan></text>
<line x1="1472.1" y1="614.0" x2="1482.1" y2="614.0" stroke="#000" stroke-width="3.8"/>
<text x="1474.5" y="619.5" font-size="28" text-anchor="end">10<tspan font-size="17" dy="-10.5">4</tspan></text>
<line x1="1472.1" y1="681.1" x2="1482.1" y2="681.1" stroke="#000" stroke-width="3.8"/>
<text x="1474.5" y="686.6" font-size="28" text-anchor="end">10<tspan font-size="17" dy="-10.5">2</tspan></text>
<line x1="1472.1" y1="748.2" x2="1482.1" y2="748.2" stroke="#000" stroke-width="3.8"/>
<text x="1474.5" y="753.7" font-size="28" text-anchor="end">10<tspan font-size="17" dy="-10.5">0</tspan></text>
<line x1="1505.8" y1="748.2" x2="1505.8" y2="757.7" stroke="#000" stroke-width="3.6"/>
<line x1="1543.0" y1="748.2" x2="1543.0" y2="757.7" stroke="#000" stroke-width="3.6"/>
<line x1="1580.1" y1="748.2" x2="1580.1" y2="757.7" stroke="#000" stroke-width="3.6"/>
<line x1="1617.2" y1="748.2" x2="1617.2" y2="757.7" stroke="#000" stroke-width="3.6"/>
<line x1="1654.4" y1="748.2" x2="1654.4" y2="757.7" stroke="#000" stroke-width="3.6"/>
<line x1="1691.5" y1="748.2" x2="1691.5" y2="757.7" stroke="#000" stroke-width="3.6"/>
<line x1="1728.7" y1="748.2" x2="1728.7" y2="757.7" stroke="#000" stroke-width="3.6"/>
<path d="M1483.8 526.2 L1506.1 524.5 L1528.5 525.7" stroke="#F15A24" stroke-width="3.5" fill="none" stroke-linejoin="round" stroke-linecap="round"/>
<path d="M1483.8 530.5 L1507.0 540.0 L1530.2 547.7 L1545.7 526.2" stroke="#F15A24" stroke-width="3.5" fill="none" stroke-linejoin="round" stroke-linecap="round"/>
<path d="M1483.8 540.8 L1506.1 525.4 L1530.2 540.8 L1545.7 526.2" stroke="#F15A24" stroke-width="3.5" fill="none" stroke-linejoin="round" stroke-linecap="round"/>
<path d="M1483.8 546.0 L1506.1 534.0 L1530.2 544.3 L1545.7 534.0 L1562.9 518.5" stroke="#F15A24" stroke-width="3.5" fill="none" stroke-linejoin="round" stroke-linecap="round"/>
<path d="M1483.8 552.9 L1504.4 540.8 L1526.8 563.2 L1544.0 549.4" stroke="#F15A24" stroke-width="3.5" fill="none" stroke-linejoin="round" stroke-linecap="round"/>
<path d="M1483.8 559.8 L1504.4 546.0 L1526.8 573.5 L1544.0 549.4" stroke="#F15A24" stroke-width="3.5" fill="none" stroke-linejoin="round" stroke-linecap="round"/>
<path d="M1483.8 566.6 L1504.4 552.9 L1526.8 577.0 L1544.0 542.6" stroke="#F15A24" stroke-width="3.5" fill="none" stroke-linejoin="round" stroke-linecap="round"/>
<path d="M1483.8 573.5 L1506.1 556.3 L1526.8 592.4 L1544.0 563.2 L1561.2 554.6 L1581.8 533.1" stroke="#F15A24" stroke-width="3.5" fill="none" stroke-linejoin="round" stroke-linecap="round"/>
<path d="M1483.8 580.4 L1506.1 563.2 L1525.0 601.0 L1543.1 620.0 L1561.2 544.3 L1581.8 515.9" stroke="#F15A24" stroke-width="3.5" fill="none" stroke-linejoin="round" stroke-linecap="round"/>
<path d="M1483.8 607.9 L1502.7 566.6 L1526.8 649.2 L1544.0 635.4 L1562.9 645.8 L1580.9 643.2 L1599.9 652.6 L1617.9 669.0 L1636.8 663.0 L1655.8 656.1 L1673.8 649.2 L1701.3 665.5 L1705.6 675.0 L1727.5 644.0 L1752.9 666.4" stroke="#F15A24" stroke-width="3.5" fill="none" stroke-linejoin="round" stroke-linecap="round"/>
<path d="M1483.8 578.7 L1506.1 590.7 L1526.8 654.4 L1544.0 681.0 L1563.7 659.5 L1599.0 664.7 L1617.9 688.8 L1631.7 655.2 L1655.8 675.0 L1673.8 748.1 L1701.3 695.6 L1710.8 748.1 L1752.9 748.1" stroke="#F15A24" stroke-width="3.5" fill="none" stroke-linejoin="round" stroke-linecap="round"/>
<path d="M1483.8 583.8 L1504.4 592.4 L1525.0 620.0 L1544.0 635.4 L1564.6 654.4 L1581.8 657.8 L1599.0 642.3 L1617.9 687.0 L1635.1 656.1 L1649.7 748.1 L1667.8 657.8 L1688.4 666.4 L1702.2 690.5 L1710.8 687.0 L1730.6 663.8" stroke="#F15A24" stroke-width="3.5" fill="none" stroke-linejoin="round" stroke-linecap="round"/>
<path d="M1483.8 563.2 L1504.4 570.1 L1526.8 614.8 L1544.0 637.2 L1562.9 680.2 L1580.9 748.1 L1599.0 654.4 L1612.8 748.1 L1630.8 656.1 L1638.6 680.2 L1655.8 657.8 L1673.0 650.9 L1688.4 656.1 L1702.2 665.5 L1710.8 748.1 L1730.6 670.7" stroke="#F15A24" stroke-width="3.5" fill="none" stroke-linejoin="round" stroke-linecap="round"/>
<path d="M1483.8 556.3 L1507.8 580.4 L1526.8 640.6 L1562.9 659.5 L1580.9 748.1 L1598.1 666.4" stroke="#F15A24" stroke-width="3.5" fill="none" stroke-linejoin="round" stroke-linecap="round"/>
<path d="M1507.0 563.2 L1526.8 623.4 L1545.7 637.2 L1564.6 649.2 L1581.8 654.4 L1600.7 649.2 L1617.9 669.8 L1655.8 656.1 L1673.8 659.5 L1702.2 666.4 L1710.8 688.8 L1727.5 653.5 L1752.9 659.5" stroke="#F15A24" stroke-width="3.5" fill="none" stroke-linejoin="round" stroke-linecap="round"/>
<text x="1477.9" y="417.6" font-size="33" textLength="253.2" lengthAdjust="spacingAndGlyphs">mIL-12hFc NHQ</text>
<text x="1505.8" y="780.5" font-size="28" text-anchor="middle">28</text>
<text x="1543.0" y="780.5" font-size="28" text-anchor="middle">42</text>
<text x="1580.1" y="780.5" font-size="28" text-anchor="middle">56</text>
<text x="1617.2" y="780.5" font-size="28" text-anchor="middle">70</text>
<text x="1654.4" y="780.5" font-size="28" text-anchor="middle">84</text>
<text x="1691.5" y="780.5" font-size="28" text-anchor="middle">98</text>
<text x="1727.7" y="780.5" font-size="28" text-anchor="middle">112</text>
<text x="1579.7" y="811.5" font-size="26" textLength="65.3" lengthAdjust="spacingAndGlyphs">Days</text>
<text x="1527.6" y="461.4" font-size="26" textLength="57.1" lengthAdjust="spacingAndGlyphs">CED</text>
<line x1="1488.0" y1="435.6" x2="1488.0" y2="463.6" stroke="#000" stroke-width="3"/>
<path d="M1488.0 473.8 L1478.2 456.8 L1488.0 461.9 L1497.8 456.8 Z" fill="#000"/>
<line x1="1508.3" y1="435.6" x2="1508.3" y2="463.6" stroke="#000" stroke-width="3"/>
<path d="M1508.3 473.8 L1498.5 456.8 L1508.3 461.9 L1518.1 456.8 Z" fill="#000"/>
<line x1="1816.5" y1="483.9" x2="1816.5" y2="746.3" stroke="#000" stroke-width="3.8" stroke-dasharray="6.9 6.9" stroke-linecap="round"/>
<line x1="1835.1" y1="483.9" x2="1835.1" y2="746.3" stroke="#000" stroke-width="3.8" stroke-dasharray="6.9 6.9" stroke-linecap="round"/>
<line x1="1811.1" y1="479.5" x2="1811.1" y2="750.2" stroke="#000" stroke-width="3.8"/>
<line x1="1801.1" y1="748.3" x2="1948.1" y2="748.3" stroke="#000" stroke-width="3.8"/>
<line x1="1801.1" y1="481.4" x2="1811.1" y2="481.4" stroke="#000" stroke-width="3.8"/>
<text x="1798.0" y="486.9" font-size="28" text-anchor="end">10<tspan font-size="17" dy="-10.5">8</tspan></text>
<line x1="1801.1" y1="548.1" x2="1811.1" y2="548.1" stroke="#000" stroke-width="3.8"/>
<text x="1798.0" y="553.6" font-size="28" text-anchor="end">10<tspan font-size="17" dy="-10.5">6</tspan></text>
<line x1="1801.1" y1="614.8" x2="1811.1" y2="614.8" stroke="#000" stroke-width="3.8"/>
<text x="1798.0" y="620.3" font-size="28" text-anchor="end">10<tspan font-size="17" dy="-10.5">4</tspan></text>
<line x1="1801.1" y1="681.6" x2="1811.1" y2="681.6" stroke="#000" stroke-width="3.8"/>
<text x="1798.0" y="687.1" font-size="28" text-anchor="end">10<tspan font-size="17" dy="-10.5">2</tspan></text>
<line x1="1801.1" y1="748.3" x2="1811.1" y2="748.3" stroke="#000" stroke-width="3.8"/>
<text x="1798.0" y="753.8" font-size="28" text-anchor="end">10<tspan font-size="17" dy="-10.5">0</tspan></text>
<line x1="1835.1" y1="748.3" x2="1835.1" y2="757.8" stroke="#000" stroke-width="3.6"/>
<line x1="1872.2" y1="748.3" x2="1872.2" y2="757.8" stroke="#000" stroke-width="3.6"/>
<line x1="1909.4" y1="748.3" x2="1909.4" y2="757.8" stroke="#000" stroke-width="3.6"/>
<line x1="1946.5" y1="748.3" x2="1946.5" y2="757.8" stroke="#000" stroke-width="3.6"/>
<path d="M1813.6 522.1 L1837.9 512.1" stroke="#A8A8A8" stroke-width="3.5" fill="none" stroke-linejoin="round" stroke-linecap="round"/>
<path d="M1813.6 548.6 L1837.9 502.9" stroke="#A8A8A8" stroke-width="3.5" fill="none" stroke-linejoin="round" stroke-linecap="round"/>
<path d="M1813.6 551.4 L1832.9 528.6 L1853.6 516.4" stroke="#A8A8A8" stroke-width="3.5" fill="none" stroke-linejoin="round" stroke-linecap="round"/>
<path d="M1813.6 554.3 L1837.1 532.9 L1858.6 537.1" stroke="#A8A8A8" stroke-width="3.5" fill="none" stroke-linejoin="round" stroke-linecap="round"/>
<path d="M1813.6 562.9 L1832.9 550.0 L1844.3 545.7 L1854.3 544.3" stroke="#A8A8A8" stroke-width="3.5" fill="none" stroke-linejoin="round" stroke-linecap="round"/>
<path d="M1813.6 568.6 L1837.9 517.1" stroke="#A8A8A8" stroke-width="3.5" fill="none" stroke-linejoin="round" stroke-linecap="round"/>
<path d="M1813.6 574.3 L1824.3 554.3 L1837.9 548.6" stroke="#A8A8A8" stroke-width="3.5" fill="none" stroke-linejoin="round" stroke-linecap="round"/>
<path d="M1813.6 594.3 L1830.0 574.3 L1852.9 568.6 L1872.1 548.6" stroke="#A8A8A8" stroke-width="3.5" fill="none" stroke-linejoin="round" stroke-linecap="round"/>
<path d="M1813.6 600.0 L1832.9 585.7 L1852.9 565.7 L1872.1 537.9" stroke="#A8A8A8" stroke-width="3.5" fill="none" stroke-linejoin="round" stroke-linecap="round"/>
<path d="M1813.6 601.4 L1837.9 607.9 L1856.4 548.6" stroke="#A8A8A8" stroke-width="3.5" fill="none" stroke-linejoin="round" stroke-linecap="round"/>
<path d="M1813.6 622.9 L1822.9 560.0 L1837.9 512.9" stroke="#A8A8A8" stroke-width="3.5" fill="none" stroke-linejoin="round" stroke-linecap="round"/>
<path d="M1813.6 602.9 L1822.9 588.6 L1850.0 562.9 L1872.1 542.1" stroke="#A8A8A8" stroke-width="3.5" fill="none" stroke-linejoin="round" stroke-linecap="round"/>
<path d="M1813.6 585.7 L1822.9 582.9 L1827.1 554.3 L1837.9 515.7" stroke="#A8A8A8" stroke-width="3.5" fill="none" stroke-linejoin="round" stroke-linecap="round"/>
<path d="M1850.0 567.1 L1872.1 528.6" stroke="#A8A8A8" stroke-width="3.5" fill="none" stroke-linejoin="round" stroke-linecap="round"/>
<text x="1804.2" y="417.6" font-size="33" textLength="113.6" lengthAdjust="spacingAndGlyphs">control</text>
<text x="1835.1" y="780.5" font-size="28" text-anchor="middle">28</text>
<text x="1872.2" y="780.5" font-size="28" text-anchor="middle">42</text>
<text x="1909.4" y="780.5" font-size="28" text-anchor="middle">56</text>
<text x="1946.5" y="780.5" font-size="28" text-anchor="middle">70</text>
<text x="1860.1" y="811.5" font-size="26" textLength="64.9" lengthAdjust="spacingAndGlyphs">Days</text>
<text x="1855.5" y="463.3" font-size="26" textLength="57.8" lengthAdjust="spacingAndGlyphs">CED</text>
<line x1="1815.7" y1="436.0" x2="1815.7" y2="464.3" stroke="#000" stroke-width="3"/>
<path d="M1815.7 474.5 L1805.9 457.5 L1815.7 462.6 L1825.5 457.5 Z" fill="#000"/>
<line x1="1836.2" y1="436.0" x2="1836.2" y2="464.3" stroke="#000" stroke-width="3"/>
<path d="M1836.2 474.5 L1826.4 457.5 L1836.2 462.6 L1846.0 457.5 Z" fill="#000"/>
</g>
<g id="panelE">
<text x="0.8" y="906.0" font-size="63" style="font-weight:normal;" textLength="39.6" lengthAdjust="spacingAndGlyphs">E</text>
<text x="30.9" y="1220.4" font-size="26" transform="rotate(-90 30.9 1220.4)" textLength="163.7" lengthAdjust="spacingAndGlyphs">IL-12 (ng/mL)</text>
<line x1="100.1" y1="1005.8" x2="100.1" y2="1266.3" stroke="#000" stroke-width="3.8"/>
<line x1="86.6" y1="1264.4" x2="100.1" y2="1264.4" stroke="#000" stroke-width="3.8"/>
<text x="79.5" y="1273.9" font-size="27.5" text-anchor="end">0</text>
<line x1="86.6" y1="1213.1" x2="100.1" y2="1213.1" stroke="#000" stroke-width="3.8"/>
<text x="79.5" y="1222.6" font-size="27.5" text-anchor="end">5</text>
<line x1="86.6" y1="1161.7" x2="100.1" y2="1161.7" stroke="#000" stroke-width="3.8"/>
<text x="79.5" y="1171.2" font-size="27.5" text-anchor="end">10</text>
<line x1="86.6" y1="1110.4" x2="100.1" y2="1110.4" stroke="#000" stroke-width="3.8"/>
<text x="79.5" y="1119.9" font-size="27.5" text-anchor="end">15</text>
<line x1="86.6" y1="1059.0" x2="100.1" y2="1059.0" stroke="#000" stroke-width="3.8"/>
<text x="79.5" y="1068.5" font-size="27.5" text-anchor="end">20</text>
<line x1="86.6" y1="1007.7" x2="100.1" y2="1007.7" stroke="#000" stroke-width="3.8"/>
<text x="79.5" y="1017.2" font-size="27.5" text-anchor="end">25</text>
<line x1="86.6" y1="1264.4" x2="323.8" y2="1264.4" stroke="#000" stroke-width="3.8"/>
<line x1="323.8" y1="1256.4" x2="323.8" y2="1271.4" stroke="#000" stroke-width="3.4"/>
<line x1="327.8" y1="1264.4" x2="342.6" y2="1264.4" stroke="#000" stroke-width="2.2" stroke-dasharray="2 2.6"/>
<line x1="345.6" y1="1256.4" x2="345.6" y2="1271.4" stroke="#000" stroke-width="3.4"/>
<line x1="345.6" y1="1264.4" x2="357.0" y2="1264.4" stroke="#000" stroke-width="3.8"/>
<line x1="350.8" y1="1264.4" x2="350.8" y2="1275.9" stroke="#000" stroke-width="3.4"/>
<line x1="112.3" y1="1264.4" x2="112.3" y2="1269.9" stroke="#000" stroke-width="3.4"/>
<line x1="125.0" y1="1264.4" x2="125.0" y2="1274.9" stroke="#000" stroke-width="3.6"/>
<line x1="137.7" y1="1264.4" x2="137.7" y2="1269.9" stroke="#000" stroke-width="3.4"/>
<line x1="150.5" y1="1264.4" x2="150.5" y2="1269.9" stroke="#000" stroke-width="3.4"/>
<line x1="163.2" y1="1264.4" x2="163.2" y2="1269.9" stroke="#000" stroke-width="3.4"/>
<line x1="175.9" y1="1264.4" x2="175.9" y2="1269.9" stroke="#000" stroke-width="3.4"/>
<line x1="188.6" y1="1264.4" x2="188.6" y2="1269.9" stroke="#000" stroke-width="3.4"/>
<line x1="201.4" y1="1264.4" x2="201.4" y2="1269.9" stroke="#000" stroke-width="3.4"/>
<line x1="214.1" y1="1264.4" x2="214.1" y2="1274.9" stroke="#000" stroke-width="3.6"/>
<line x1="226.8" y1="1264.4" x2="226.8" y2="1269.9" stroke="#000" stroke-width="3.4"/>
<line x1="239.6" y1="1264.4" x2="239.6" y2="1269.9" stroke="#000" stroke-width="3.4"/>
<line x1="252.3" y1="1264.4" x2="252.3" y2="1269.9" stroke="#000" stroke-width="3.4"/>
<line x1="265.0" y1="1264.4" x2="265.0" y2="1269.9" stroke="#000" stroke-width="3.4"/>
<line x1="277.7" y1="1264.4" x2="277.7" y2="1269.9" stroke="#000" stroke-width="3.4"/>
<line x1="290.5" y1="1264.4" x2="290.5" y2="1269.9" stroke="#000" stroke-width="3.4"/>
<line x1="303.2" y1="1264.4" x2="303.2" y2="1274.9" stroke="#000" stroke-width="3.6"/>
<line x1="315.9" y1="1264.4" x2="315.9" y2="1269.9" stroke="#000" stroke-width="3.4"/>
<text x="123.5" y="1300.8" font-size="27.5" text-anchor="middle">21</text>
<text x="214.5" y="1300.8" font-size="27.5" text-anchor="middle">28</text>
<text x="302.4" y="1300.8" font-size="27.5" text-anchor="middle">35</text>
<text x="342.8" y="1300.8" font-size="27.5" text-anchor="middle">48</text>
<text x="179.1" y="1332.2" font-size="26" textLength="64.8" lengthAdjust="spacingAndGlyphs">Days</text>
<text x="114.8" y="940.3" font-size="33" textLength="122.1" lengthAdjust="spacingAndGlyphs">rmIL-12</text>
<line x1="125.8" y1="1010.2" x2="125.8" y2="1262.4" stroke="#000" stroke-width="3.8" stroke-dasharray="6.9 6.9" stroke-linecap="round"/>
<line x1="125.8" y1="966.4" x2="125.8" y2="994.1" stroke="#000" stroke-width="3"/>
<path d="M125.8 1003.7 L116.3 987.7 L125.8 992.5 L135.3 987.7 Z" fill="#000"/>
<line x1="218.1" y1="1010.2" x2="218.1" y2="1262.4" stroke="#000" stroke-width="3.8" stroke-dasharray="6.9 6.9" stroke-linecap="round"/>
<line x1="218.1" y1="966.4" x2="218.1" y2="994.1" stroke="#000" stroke-width="3"/>
<path d="M218.1 1003.7 L208.6 987.7 L218.1 992.5 L227.6 987.7 Z" fill="#000"/>
<text x="237.5" y="989.2" font-size="26" textLength="58.0" lengthAdjust="spacingAndGlyphs">CED</text>
<path d="M125.0 1264.4 L129.6 1075.5 L139.6 1239.8 L163.2 1264.4 L216.6 1264.4 L222.0 1100.1 L231.9 1251.6 L256.1 1264.4 L303.2 1264.4" stroke="#000" stroke-width="3.4" fill="none" stroke-linejoin="round"/>
<path d="M125.0 1264.4 L129.6 1095.0 L139.6 1242.4 L163.2 1264.4 L216.6 1264.4 L222.0 1130.9 L231.9 1253.7 L256.1 1264.4 L303.2 1264.4" stroke="#000" stroke-width="3.4" fill="none" stroke-linejoin="round"/>
<path d="M125.0 1264.4 L129.6 1120.6 L139.6 1245.7 L163.2 1264.4 L216.6 1264.4 L222.0 1115.5 L231.9 1252.5 L256.1 1264.4 L303.2 1264.4" stroke="#000" stroke-width="3.4" fill="none" stroke-linejoin="round"/>
<path d="M125.0 1264.4 L129.6 1141.2 L139.6 1248.4 L163.2 1264.4 L216.6 1264.4 L222.0 1151.5 L231.9 1255.4 L256.1 1264.4 L303.2 1264.4" stroke="#000" stroke-width="3.4" fill="none" stroke-linejoin="round"/>
<path d="M125.0 1264.4 L129.6 1161.7 L139.6 1251.1 L163.2 1264.4 L216.6 1264.4 L222.0 1172.0 L231.9 1257.0 L256.1 1264.4 L303.2 1264.4" stroke="#000" stroke-width="3.4" fill="none" stroke-linejoin="round"/>
<path d="M125.0 1264.4 L129.6 1182.3 L139.6 1253.7 L163.2 1264.4 L216.6 1264.4 L222.0 1141.2 L231.9 1254.5 L256.1 1264.4 L303.2 1264.4" stroke="#000" stroke-width="3.4" fill="none" stroke-linejoin="round"/>
<path d="M125.0 1264.4 L129.6 1200.7 L139.6 1256.1 L163.2 1264.4 L216.6 1264.4 L222.0 1192.5 L231.9 1258.6 L256.1 1264.4 L303.2 1264.4" stroke="#000" stroke-width="3.4" fill="none" stroke-linejoin="round"/>
<path d="M125.0 1264.4 L129.6 1233.6 L139.6 1260.4 L163.2 1264.4 L216.6 1264.4 L222.0 1213.1 L231.9 1260.3 L256.1 1264.4 L303.2 1264.4" stroke="#000" stroke-width="3.4" fill="none" stroke-linejoin="round"/>
<path d="M125.0 1264.4 L129.6 1248.0 L139.6 1262.3 L163.2 1264.4 L216.6 1264.4 L222.0 1228.5 L231.9 1261.5 L256.1 1264.4 L303.2 1264.4" stroke="#000" stroke-width="3.4" fill="none" stroke-linejoin="round"/>
<path d="M125.0 1264.4 L129.6 1258.2 L139.6 1263.6 L163.2 1264.4 L216.6 1264.4 L222.0 1243.9 L231.9 1262.8 L256.1 1264.4 L303.2 1264.4" stroke="#000" stroke-width="3.4" fill="none" stroke-linejoin="round"/>
<path d="M100.1 1239.4 L359.2 1239.4 L378.0 1006.7 L394.0 1006.7" stroke="#000" stroke-width="1.9" fill="none" stroke-linejoin="miter" stroke-dasharray="9.5 6"/>
<path d="M449.0 1006.7 L705.0 1006.7" stroke="#000" stroke-width="1.9" fill="none" stroke-linejoin="miter" stroke-dasharray="9.5 6"/>
<path d="M359.0 1264.4 L394.0 1263.5" stroke="#000" stroke-width="1.9" fill="none" stroke-linejoin="miter" stroke-dasharray="9.5 6"/>
<path d="M756.0 1007.7 L1034.0 1008.5" stroke="#000" stroke-width="1.9" fill="none" stroke-linejoin="miter" stroke-dasharray="9.5 6"/>
<path d="M1090.0 1010.0 L1341.7 1010.0" stroke="#000" stroke-width="1.9" fill="none" stroke-linejoin="miter" stroke-dasharray="9.5 6"/>
<line x1="447.6" y1="1004.6" x2="447.6" y2="1264.7" stroke="#000" stroke-width="3.8"/>
<line x1="436.2" y1="1262.8" x2="447.6" y2="1262.8" stroke="#000" stroke-width="3.8"/>
<text x="433.2" y="1272.3" font-size="27.5" text-anchor="end">0.0</text>
<line x1="436.2" y1="1211.5" x2="447.6" y2="1211.5" stroke="#000" stroke-width="3.8"/>
<text x="433.2" y="1221.0" font-size="27.5" text-anchor="end">0.5</text>
<line x1="436.2" y1="1160.3" x2="447.6" y2="1160.3" stroke="#000" stroke-width="3.8"/>
<text x="433.2" y="1169.8" font-size="27.5" text-anchor="end">1.0</text>
<line x1="436.2" y1="1109.0" x2="447.6" y2="1109.0" stroke="#000" stroke-width="3.8"/>
<text x="433.2" y="1118.5" font-size="27.5" text-anchor="end">1.5</text>
<line x1="436.2" y1="1057.8" x2="447.6" y2="1057.8" stroke="#000" stroke-width="3.8"/>
<text x="433.2" y="1067.3" font-size="27.5" text-anchor="end">2.0</text>
<line x1="436.2" y1="1006.5" x2="447.6" y2="1006.5" stroke="#000" stroke-width="3.8"/>
<text x="433.2" y="1016.0" font-size="27.5" text-anchor="end">2.5</text>
<line x1="436.2" y1="1262.8" x2="672.0" y2="1262.8" stroke="#000" stroke-width="3.8"/>
<line x1="672.0" y1="1254.8" x2="672.0" y2="1269.8" stroke="#000" stroke-width="3.4"/>
<line x1="676.0" y1="1262.8" x2="690.0" y2="1262.8" stroke="#000" stroke-width="2.2" stroke-dasharray="2 2.6"/>
<line x1="693.0" y1="1254.8" x2="693.0" y2="1269.8" stroke="#000" stroke-width="3.4"/>
<line x1="693.0" y1="1262.8" x2="704.0" y2="1262.8" stroke="#000" stroke-width="3.8"/>
<line x1="699.8" y1="1262.8" x2="699.8" y2="1274.3" stroke="#000" stroke-width="3.4"/>
<line x1="460.7" y1="1262.8" x2="460.7" y2="1268.3" stroke="#000" stroke-width="3.4"/>
<line x1="473.4" y1="1262.8" x2="473.4" y2="1273.3" stroke="#000" stroke-width="3.6"/>
<line x1="486.1" y1="1262.8" x2="486.1" y2="1268.3" stroke="#000" stroke-width="3.4"/>
<line x1="498.8" y1="1262.8" x2="498.8" y2="1268.3" stroke="#000" stroke-width="3.4"/>
<line x1="511.5" y1="1262.8" x2="511.5" y2="1268.3" stroke="#000" stroke-width="3.4"/>
<line x1="524.2" y1="1262.8" x2="524.2" y2="1268.3" stroke="#000" stroke-width="3.4"/>
<line x1="536.9" y1="1262.8" x2="536.9" y2="1268.3" stroke="#000" stroke-width="3.4"/>
<line x1="549.6" y1="1262.8" x2="549.6" y2="1268.3" stroke="#000" stroke-width="3.4"/>
<line x1="562.3" y1="1262.8" x2="562.3" y2="1273.3" stroke="#000" stroke-width="3.6"/>
<line x1="575.0" y1="1262.8" x2="575.0" y2="1268.3" stroke="#000" stroke-width="3.4"/>
<line x1="587.7" y1="1262.8" x2="587.7" y2="1268.3" stroke="#000" stroke-width="3.4"/>
<line x1="600.4" y1="1262.8" x2="600.4" y2="1268.3" stroke="#000" stroke-width="3.4"/>
<line x1="613.1" y1="1262.8" x2="613.1" y2="1268.3" stroke="#000" stroke-width="3.4"/>
<line x1="625.8" y1="1262.8" x2="625.8" y2="1268.3" stroke="#000" stroke-width="3.4"/>
<line x1="638.5" y1="1262.8" x2="638.5" y2="1268.3" stroke="#000" stroke-width="3.4"/>
<line x1="651.2" y1="1262.8" x2="651.2" y2="1273.3" stroke="#000" stroke-width="3.6"/>
<line x1="663.9" y1="1262.8" x2="663.9" y2="1268.3" stroke="#000" stroke-width="3.4"/>
<text x="474.0" y="1302.7" font-size="27.5" text-anchor="middle">21</text>
<text x="563.3" y="1302.7" font-size="27.5" text-anchor="middle">28</text>
<text x="651.6" y="1302.7" font-size="27.5" text-anchor="middle">35</text>
<text x="692.0" y="1302.7" font-size="27.5" text-anchor="middle">48</text>
<text x="527.1" y="1332.4" font-size="26" textLength="64.8" lengthAdjust="spacingAndGlyphs">Days</text>
<text x="441.7" y="940.3" font-size="33" textLength="230.9" lengthAdjust="spacingAndGlyphs">mIL-12hFc WT</text>
<line x1="473.4" y1="1009.0" x2="473.4" y2="1260.8" stroke="#000" stroke-width="3.8" stroke-dasharray="6.9 6.9" stroke-linecap="round"/>
<line x1="473.4" y1="966.4" x2="473.4" y2="993.4" stroke="#000" stroke-width="3"/>
<path d="M473.4 1003.0 L463.9 987.0 L473.4 991.8 L482.9 987.0 Z" fill="#000"/>
<line x1="565.8" y1="1009.0" x2="565.8" y2="1260.8" stroke="#000" stroke-width="3.8" stroke-dasharray="6.9 6.9" stroke-linecap="round"/>
<line x1="565.8" y1="966.4" x2="565.8" y2="993.4" stroke="#000" stroke-width="3"/>
<path d="M565.8 1003.0 L556.3 987.0 L565.8 991.8 L575.3 987.0 Z" fill="#000"/>
<text x="584.7" y="989.2" font-size="26" textLength="58.0" lengthAdjust="spacingAndGlyphs">CED</text>
<path d="M473.4 1262.8 L476.6 1121.3 L486.1 1205.4 L511.5 1257.7 L562.3 1260.7 L566.1 1260.7 L600.4 1261.8 L651.2 1261.8 L670.2 1261.8" stroke="#00A79D" stroke-width="3.4" fill="none" stroke-linejoin="round"/>
<path d="M473.4 1262.8 L476.6 1180.8 L486.1 1211.5 L511.5 1257.7 L562.3 1260.7 L566.1 1260.7 L600.4 1261.8 L651.2 1261.8 L670.2 1261.8" stroke="#00A79D" stroke-width="3.4" fill="none" stroke-linejoin="round"/>
<path d="M473.4 1262.8 L476.6 1191.0 L486.1 1216.7 L511.5 1257.7 L562.3 1260.7 L566.1 1260.7 L600.4 1261.8 L651.2 1261.8 L670.2 1261.8" stroke="#00A79D" stroke-width="3.4" fill="none" stroke-linejoin="round"/>
<path d="M473.4 1262.8 L476.6 1216.7 L486.1 1242.3 L511.5 1257.7 L562.3 1260.7 L566.1 1260.7 L600.4 1261.8 L651.2 1261.8 L670.2 1261.8" stroke="#00A79D" stroke-width="3.4" fill="none" stroke-linejoin="round"/>
<path d="M473.4 1262.8 L476.6 1232.0 L486.1 1247.4 L511.5 1257.7 L562.3 1260.7 L566.1 1260.7 L600.4 1261.8 L651.2 1261.8 L670.2 1261.8" stroke="#00A79D" stroke-width="3.4" fill="none" stroke-linejoin="round"/>
<path d="M473.4 1262.8 L476.6 1242.3 L486.1 1250.5 L511.5 1257.7 L562.3 1260.7 L566.1 1260.7 L600.4 1261.8 L651.2 1261.8 L670.2 1261.8" stroke="#00A79D" stroke-width="3.4" fill="none" stroke-linejoin="round"/>
<path d="M473.4 1262.8 L476.6 1250.5 L486.1 1257.7 L511.5 1257.7 L562.3 1260.7 L566.1 1260.7 L600.4 1261.8 L651.2 1261.8 L670.2 1261.8" stroke="#00A79D" stroke-width="3.4" fill="none" stroke-linejoin="round"/>
<path d="M473.4 1262.8 L476.6 1257.7 L486.1 1254.6 L511.5 1257.7 L562.3 1260.7 L566.1 1260.7 L600.4 1261.8 L651.2 1261.8 L670.2 1261.8" stroke="#00A79D" stroke-width="3.4" fill="none" stroke-linejoin="round"/>
<path d="M473.4 1262.8 L486.1 1252.5 L563.6 1261.8 L566.7 1253.6 L575.0 1259.7 L606.8 1260.7 L657.5 1243.3 L671.5 1249.5" stroke="#00A79D" stroke-width="3.4" fill="none" stroke-linejoin="round"/>
<path d="M695.0 1258.5 L703.0 1261.0" stroke="#00A79D" stroke-width="3" fill="none" stroke-linejoin="miter"/>
<line x1="768.4" y1="1005.8" x2="768.4" y2="1265.7" stroke="#000" stroke-width="3.8"/>
<line x1="755.2" y1="1263.8" x2="768.4" y2="1263.8" stroke="#000" stroke-width="3.8"/>
<text x="748.8" y="1276.7" font-size="27.5" text-anchor="end">0.0</text>
<line x1="755.2" y1="1212.6" x2="768.4" y2="1212.6" stroke="#000" stroke-width="3.8"/>
<text x="748.8" y="1224.8" font-size="27.5" text-anchor="end">0.5</text>
<line x1="755.2" y1="1161.4" x2="768.4" y2="1161.4" stroke="#000" stroke-width="3.8"/>
<text x="748.8" y="1172.9" font-size="27.5" text-anchor="end">1.0</text>
<line x1="755.2" y1="1110.1" x2="768.4" y2="1110.1" stroke="#000" stroke-width="3.8"/>
<text x="748.8" y="1121.0" font-size="27.5" text-anchor="end">1.5</text>
<line x1="755.2" y1="1058.9" x2="768.4" y2="1058.9" stroke="#000" stroke-width="3.8"/>
<text x="748.8" y="1069.1" font-size="27.5" text-anchor="end">2.0</text>
<line x1="755.2" y1="1007.7" x2="768.4" y2="1007.7" stroke="#000" stroke-width="3.8"/>
<text x="748.8" y="1017.2" font-size="27.5" text-anchor="end">2.5</text>
<line x1="755.2" y1="1263.8" x2="992.0" y2="1263.8" stroke="#000" stroke-width="3.8"/>
<line x1="992.0" y1="1255.8" x2="992.0" y2="1270.8" stroke="#000" stroke-width="3.4"/>
<line x1="996.0" y1="1263.8" x2="1011.5" y2="1263.8" stroke="#000" stroke-width="2.2" stroke-dasharray="2 2.6"/>
<line x1="1014.5" y1="1255.8" x2="1014.5" y2="1270.8" stroke="#000" stroke-width="3.4"/>
<line x1="1014.5" y1="1263.8" x2="1024.0" y2="1263.8" stroke="#000" stroke-width="3.8"/>
<line x1="1020.5" y1="1263.8" x2="1020.5" y2="1275.3" stroke="#000" stroke-width="3.4"/>
<line x1="781.0" y1="1263.8" x2="781.0" y2="1269.3" stroke="#000" stroke-width="3.4"/>
<line x1="794.1" y1="1263.8" x2="794.1" y2="1274.3" stroke="#000" stroke-width="3.6"/>
<line x1="807.2" y1="1263.8" x2="807.2" y2="1269.3" stroke="#000" stroke-width="3.4"/>
<line x1="820.4" y1="1263.8" x2="820.4" y2="1269.3" stroke="#000" stroke-width="3.4"/>
<line x1="833.5" y1="1263.8" x2="833.5" y2="1269.3" stroke="#000" stroke-width="3.4"/>
<line x1="846.6" y1="1263.8" x2="846.6" y2="1269.3" stroke="#000" stroke-width="3.4"/>
<line x1="859.7" y1="1263.8" x2="859.7" y2="1269.3" stroke="#000" stroke-width="3.4"/>
<line x1="872.9" y1="1263.8" x2="872.9" y2="1269.3" stroke="#000" stroke-width="3.4"/>
<line x1="886.0" y1="1263.8" x2="886.0" y2="1274.3" stroke="#000" stroke-width="3.6"/>
<line x1="899.1" y1="1263.8" x2="899.1" y2="1269.3" stroke="#000" stroke-width="3.4"/>
<line x1="912.3" y1="1263.8" x2="912.3" y2="1269.3" stroke="#000" stroke-width="3.4"/>
<line x1="925.4" y1="1263.8" x2="925.4" y2="1269.3" stroke="#000" stroke-width="3.4"/>
<line x1="938.5" y1="1263.8" x2="938.5" y2="1269.3" stroke="#000" stroke-width="3.4"/>
<line x1="951.6" y1="1263.8" x2="951.6" y2="1269.3" stroke="#000" stroke-width="3.4"/>
<line x1="964.8" y1="1263.8" x2="964.8" y2="1269.3" stroke="#000" stroke-width="3.4"/>
<line x1="977.9" y1="1263.8" x2="977.9" y2="1274.3" stroke="#000" stroke-width="3.6"/>
<text x="793.3" y="1302.7" font-size="27.5" text-anchor="middle">21</text>
<text x="886.4" y="1302.7" font-size="27.5" text-anchor="middle">28</text>
<text x="979.2" y="1302.7" font-size="27.5" text-anchor="middle">35</text>
<text x="1020.0" y="1302.7" font-size="27.5" text-anchor="middle">48</text>
<text x="854.2" y="1332.4" font-size="26" textLength="64.8" lengthAdjust="spacingAndGlyphs">Days</text>
<text x="779.6" y="940.3" font-size="33" textLength="252.1" lengthAdjust="spacingAndGlyphs">mIL-12hFc NHQ</text>
<line x1="794.1" y1="1010.2" x2="794.1" y2="1261.8" stroke="#000" stroke-width="3.8" stroke-dasharray="6.9 6.9" stroke-linecap="round"/>
<line x1="794.1" y1="966.4" x2="794.1" y2="994.4" stroke="#000" stroke-width="3"/>
<path d="M794.1 1004.0 L784.6 988.0 L794.1 992.8 L803.6 988.0 Z" fill="#000"/>
<line x1="886.4" y1="1010.2" x2="886.4" y2="1261.8" stroke="#000" stroke-width="3.8" stroke-dasharray="6.9 6.9" stroke-linecap="round"/>
<line x1="886.4" y1="966.4" x2="886.4" y2="994.4" stroke="#000" stroke-width="3"/>
<path d="M886.4 1004.0 L876.9 988.0 L886.4 992.8 L895.9 988.0 Z" fill="#000"/>
<text x="904.4" y="989.2" font-size="26" textLength="58.0" lengthAdjust="spacingAndGlyphs">CED</text>
<path d="M794.1 1263.8 L797.0 1215.7 L805.9 1256.6 L833.5 1259.7 L886.0 1261.8 L889.9 1256.9 L899.1 1262.8 L951.6 1260.7 L980.5 1256.0 L991.0 1258.7 L991.0 1263.8" stroke="#F15A24" stroke-width="3.4" fill="none" stroke-linejoin="round"/>
<path d="M794.1 1263.8 L797.0 1222.8 L805.9 1256.6 L833.5 1259.7 L886.0 1261.8 L889.9 1257.7 L899.1 1262.8 L951.6 1260.7 L980.5 1256.8 L991.0 1258.7 L991.0 1263.8" stroke="#F15A24" stroke-width="3.4" fill="none" stroke-linejoin="round"/>
<path d="M794.1 1263.8 L797.0 1233.1 L805.9 1256.6 L833.5 1259.7 L886.0 1261.8 L889.9 1258.7 L899.1 1262.8 L951.6 1260.7 L980.5 1258.1 L991.0 1258.7 L991.0 1263.8" stroke="#F15A24" stroke-width="3.4" fill="none" stroke-linejoin="round"/>
<path d="M794.1 1263.8 L797.0 1243.3 L805.9 1256.6 L833.5 1259.7 L886.0 1261.8 L889.9 1259.7 L899.1 1262.8 L951.6 1260.7 L980.5 1259.3 L991.0 1258.7 L991.0 1263.8" stroke="#F15A24" stroke-width="3.4" fill="none" stroke-linejoin="round"/>
<path d="M794.1 1263.8 L797.0 1253.6 L805.9 1256.6 L833.5 1259.7 L886.0 1261.8 L889.9 1260.7 L899.1 1262.8 L951.6 1260.7 L980.5 1260.5 L991.0 1258.7 L991.0 1263.8" stroke="#F15A24" stroke-width="3.4" fill="none" stroke-linejoin="round"/>
<path d="M1016.0 1261.5 L1024.0 1263.0" stroke="#F15A24" stroke-width="3" fill="none" stroke-linejoin="miter"/>
<line x1="1089.8" y1="1008.1" x2="1089.8" y2="1261.9" stroke="#000" stroke-width="3.8"/>
<line x1="1078.6" y1="1260.0" x2="1089.8" y2="1260.0" stroke="#000" stroke-width="3.8"/>
<text x="1071.5" y="1273.0" font-size="27.5" text-anchor="end">0.0</text>
<line x1="1078.6" y1="1210.0" x2="1089.8" y2="1210.0" stroke="#000" stroke-width="3.8"/>
<text x="1071.5" y="1222.3" font-size="27.5" text-anchor="end">0.5</text>
<line x1="1078.6" y1="1160.0" x2="1089.8" y2="1160.0" stroke="#000" stroke-width="3.8"/>
<text x="1071.5" y="1171.5" font-size="27.5" text-anchor="end">1.0</text>
<line x1="1078.6" y1="1110.0" x2="1089.8" y2="1110.0" stroke="#000" stroke-width="3.8"/>
<text x="1071.5" y="1120.8" font-size="27.5" text-anchor="end">1.5</text>
<line x1="1078.6" y1="1060.0" x2="1089.8" y2="1060.0" stroke="#000" stroke-width="3.8"/>
<text x="1071.5" y="1070.0" font-size="27.5" text-anchor="end">2.0</text>
<line x1="1078.6" y1="1010.0" x2="1089.8" y2="1010.0" stroke="#000" stroke-width="3.8"/>
<text x="1071.5" y="1019.3" font-size="27.5" text-anchor="end">2.5</text>
<line x1="1078.6" y1="1260.0" x2="1308.8" y2="1260.0" stroke="#000" stroke-width="3.8"/>
<line x1="1308.8" y1="1252.0" x2="1308.8" y2="1267.0" stroke="#000" stroke-width="3.4"/>
<line x1="1312.8" y1="1260.0" x2="1328.0" y2="1260.0" stroke="#000" stroke-width="2.2" stroke-dasharray="2 2.6"/>
<line x1="1331.0" y1="1252.0" x2="1331.0" y2="1267.0" stroke="#000" stroke-width="3.4"/>
<line x1="1331.0" y1="1260.0" x2="1341.7" y2="1260.0" stroke="#000" stroke-width="3.8"/>
<line x1="1335.2" y1="1260.0" x2="1335.2" y2="1271.5" stroke="#000" stroke-width="3.4"/>
<line x1="1102.8" y1="1260.0" x2="1102.8" y2="1265.5" stroke="#000" stroke-width="3.4"/>
<line x1="1115.5" y1="1260.0" x2="1115.5" y2="1270.5" stroke="#000" stroke-width="3.6"/>
<line x1="1128.2" y1="1260.0" x2="1128.2" y2="1265.5" stroke="#000" stroke-width="3.4"/>
<line x1="1140.9" y1="1260.0" x2="1140.9" y2="1265.5" stroke="#000" stroke-width="3.4"/>
<line x1="1153.6" y1="1260.0" x2="1153.6" y2="1265.5" stroke="#000" stroke-width="3.4"/>
<line x1="1166.2" y1="1260.0" x2="1166.2" y2="1265.5" stroke="#000" stroke-width="3.4"/>
<line x1="1178.9" y1="1260.0" x2="1178.9" y2="1265.5" stroke="#000" stroke-width="3.4"/>
<line x1="1191.6" y1="1260.0" x2="1191.6" y2="1265.5" stroke="#000" stroke-width="3.4"/>
<line x1="1204.3" y1="1260.0" x2="1204.3" y2="1270.5" stroke="#000" stroke-width="3.6"/>
<line x1="1217.0" y1="1260.0" x2="1217.0" y2="1265.5" stroke="#000" stroke-width="3.4"/>
<line x1="1229.7" y1="1260.0" x2="1229.7" y2="1265.5" stroke="#000" stroke-width="3.4"/>
<line x1="1242.4" y1="1260.0" x2="1242.4" y2="1265.5" stroke="#000" stroke-width="3.4"/>
<line x1="1255.0" y1="1260.0" x2="1255.0" y2="1265.5" stroke="#000" stroke-width="3.4"/>
<line x1="1267.7" y1="1260.0" x2="1267.7" y2="1265.5" stroke="#000" stroke-width="3.4"/>
<line x1="1280.4" y1="1260.0" x2="1280.4" y2="1265.5" stroke="#000" stroke-width="3.4"/>
<line x1="1293.1" y1="1260.0" x2="1293.1" y2="1270.5" stroke="#000" stroke-width="3.6"/>
<line x1="1305.8" y1="1260.0" x2="1305.8" y2="1265.5" stroke="#000" stroke-width="3.4"/>
<text x="1114.3" y="1298.8" font-size="27.5" text-anchor="middle">21</text>
<text x="1204.0" y="1298.8" font-size="27.5" text-anchor="middle">28</text>
<text x="1292.4" y="1298.8" font-size="27.5" text-anchor="middle">35</text>
<text x="1332.9" y="1298.8" font-size="27.5" text-anchor="middle">48</text>
<text x="1172.5" y="1331.4" font-size="26" textLength="64.8" lengthAdjust="spacingAndGlyphs">Days</text>
<text x="1116.2" y="941.0" font-size="33" textLength="112.8" lengthAdjust="spacingAndGlyphs">control</text>
<line x1="1115.5" y1="1012.5" x2="1115.5" y2="1258.0" stroke="#000" stroke-width="3.8" stroke-dasharray="6.9 6.9" stroke-linecap="round"/>
<line x1="1115.5" y1="966.0" x2="1115.5" y2="996.4" stroke="#000" stroke-width="3"/>
<path d="M1115.5 1006.0 L1106.0 990.0 L1115.5 994.8 L1125.0 990.0 Z" fill="#000"/>
<line x1="1206.0" y1="1012.5" x2="1206.0" y2="1258.0" stroke="#000" stroke-width="3.8" stroke-dasharray="6.9 6.9" stroke-linecap="round"/>
<line x1="1206.0" y1="966.0" x2="1206.0" y2="996.4" stroke="#000" stroke-width="3"/>
<path d="M1206.0 1006.0 L1196.5 990.0 L1206.0 994.8 L1215.5 990.0 Z" fill="#000"/>
<text x="1224.4" y="989.3" font-size="26" textLength="58.0" lengthAdjust="spacingAndGlyphs">CED</text>
<path d="M1115.5 1260.0 L1118.0 1255.0 L1128.2 1258.0 L1204.3 1258.8 L1293.1 1259.2" stroke="#A8A8A8" stroke-width="3.4" fill="none" stroke-linejoin="round"/>
</g>
<g id="panelF">
<text x="1370.2" y="905.0" font-size="63" style="font-weight:normal;" textLength="33.9" lengthAdjust="spacingAndGlyphs">F</text>
<text x="1425.8" y="924.3" font-size="33" textLength="220.1" lengthAdjust="spacingAndGlyphs">1st IL-12 peak</text>
<text x="1495.9" y="965.5" font-size="33" textLength="71.5" lengthAdjust="spacingAndGlyphs">(6 h)</text>
<text x="1398.0" y="1204.6" font-size="26" transform="rotate(-90 1398.0 1204.6)" textLength="162.0" lengthAdjust="spacingAndGlyphs">IL-12 (ng/mL)</text>
<line x1="1463.6" y1="1004.0" x2="1463.6" y2="1099.7" stroke="#000" stroke-width="3.6"/>
<line x1="1455.0" y1="1099.7" x2="1471.0" y2="1099.7" stroke="#000" stroke-width="3.6"/>
<line x1="1448.7" y1="1005.8" x2="1463.6" y2="1005.8" stroke="#000" stroke-width="3.6"/>
<text x="1441.0" y="1016.6" font-size="27.5" text-anchor="end">20</text>
<line x1="1448.7" y1="1031.4" x2="1463.6" y2="1031.4" stroke="#000" stroke-width="3.6"/>
<text x="1441.0" y="1042.2" font-size="27.5" text-anchor="end">15</text>
<line x1="1448.7" y1="1056.8" x2="1463.6" y2="1056.8" stroke="#000" stroke-width="3.6"/>
<text x="1441.0" y="1067.6" font-size="27.5" text-anchor="end">10</text>
<line x1="1448.7" y1="1082.2" x2="1463.6" y2="1082.2" stroke="#000" stroke-width="3.6"/>
<text x="1441.0" y="1093.0" font-size="27.5" text-anchor="end">5</text>
<line x1="1463.6" y1="1122.9" x2="1463.6" y2="1264.0" stroke="#000" stroke-width="3.6"/>
<line x1="1455.0" y1="1122.9" x2="1471.0" y2="1122.9" stroke="#000" stroke-width="3.6"/>
<text x="1447.0" y="1133.1" font-size="27.5" text-anchor="end">1.5</text>
<line x1="1452.0" y1="1169.2" x2="1463.6" y2="1169.2" stroke="#000" stroke-width="3.6"/>
<text x="1438.5" y="1179.4" font-size="27.5" text-anchor="end">1</text>
<line x1="1452.0" y1="1216.0" x2="1463.6" y2="1216.0" stroke="#000" stroke-width="3.6"/>
<text x="1449.0" y="1226.2" font-size="27.5" text-anchor="end">0.5</text>
<line x1="1452.0" y1="1262.5" x2="1463.6" y2="1262.5" stroke="#000" stroke-width="3.6"/>
<text x="1443.5" y="1272.7" font-size="27.5" text-anchor="end">0</text>
<line x1="1450.0" y1="1262.5" x2="1680.2" y2="1262.5" stroke="#000" stroke-width="3.6"/>
<line x1="1496.3" y1="1262.5" x2="1496.3" y2="1273.5" stroke="#000" stroke-width="3.6"/>
<line x1="1543.9" y1="1262.5" x2="1543.9" y2="1273.5" stroke="#000" stroke-width="3.6"/>
<line x1="1592.2" y1="1262.5" x2="1592.2" y2="1273.5" stroke="#000" stroke-width="3.6"/>
<line x1="1640.3" y1="1262.5" x2="1640.3" y2="1273.5" stroke="#000" stroke-width="3.6"/>
<circle cx="1506.6" cy="1014.3" r="6.4" fill="#000"/>
<circle cx="1484.2" cy="1021.5" r="6.4" fill="#000"/>
<circle cx="1484.2" cy="1045.7" r="6.4" fill="#000"/>
<circle cx="1506.6" cy="1045.2" r="6.4" fill="#000"/>
<circle cx="1484.2" cy="1068.3" r="6.4" fill="#000"/>
<circle cx="1506.6" cy="1068.3" r="6.4" fill="#000"/>
<circle cx="1506.6" cy="1092.8" r="6.4" fill="#000"/>
<circle cx="1484.2" cy="1099.7" r="6.4" fill="#000"/>
<line x1="1478.8" y1="1057.5" x2="1511.7" y2="1057.5" stroke="#000" stroke-width="3.3"/>
<line x1="1495.5" y1="1026.7" x2="1495.5" y2="1088.4" stroke="#000" stroke-width="3.3"/>
<line x1="1487.3" y1="1026.7" x2="1504.0" y2="1026.7" stroke="#000" stroke-width="3.3"/>
<line x1="1487.3" y1="1088.4" x2="1504.0" y2="1088.4" stroke="#000" stroke-width="3.3"/>
<circle cx="1543.9" cy="1131.3" r="6.6" fill="#00A79D"/>
<circle cx="1549.0" cy="1184.6" r="6.6" fill="#00A79D"/>
<circle cx="1541.3" cy="1194.3" r="6.6" fill="#00A79D"/>
<circle cx="1532.3" cy="1231.6" r="6.6" fill="#00A79D"/>
<circle cx="1543.9" cy="1235.5" r="6.6" fill="#00A79D"/>
<circle cx="1555.5" cy="1239.4" r="6.6" fill="#00A79D"/>
<circle cx="1540.0" cy="1243.2" r="6.6" fill="#00A79D"/>
<circle cx="1549.0" cy="1249.6" r="6.6" fill="#00A79D"/>
<circle cx="1543.9" cy="1261.2" r="6.6" fill="#00A79D"/>
<line x1="1528.5" y1="1218.3" x2="1560.6" y2="1218.3" stroke="#000" stroke-width="3.3"/>
<line x1="1543.9" y1="1180.2" x2="1543.9" y2="1257.4" stroke="#000" stroke-width="3.3"/>
<line x1="1535.7" y1="1180.2" x2="1552.9" y2="1180.2" stroke="#000" stroke-width="3.3"/>
<line x1="1535.7" y1="1257.4" x2="1552.9" y2="1257.4" stroke="#000" stroke-width="3.3"/>
<circle cx="1592.2" cy="1217.0" r="6.4" fill="#F15A24"/>
<circle cx="1592.2" cy="1227.8" r="6.4" fill="#F15A24"/>
<circle cx="1592.2" cy="1239.4" r="6.4" fill="#F15A24"/>
<circle cx="1586.3" cy="1250.9" r="6.4" fill="#F15A24"/>
<circle cx="1597.9" cy="1250.9" r="6.4" fill="#F15A24"/>
<circle cx="1581.2" cy="1258.6" r="6.4" fill="#F15A24"/>
<circle cx="1603.0" cy="1258.6" r="6.4" fill="#F15A24"/>
<circle cx="1586.3" cy="1261.2" r="6.4" fill="#F15A24"/>
<circle cx="1597.9" cy="1261.2" r="6.4" fill="#F15A24"/>
<circle cx="1592.2" cy="1261.2" r="6.4" fill="#F15A24"/>
<line x1="1576.8" y1="1246.6" x2="1609.0" y2="1246.6" stroke="#000" stroke-width="3.3"/>
<line x1="1592.8" y1="1231.6" x2="1592.8" y2="1261.2" stroke="#000" stroke-width="3.3"/>
<line x1="1583.8" y1="1231.6" x2="1601.8" y2="1231.6" stroke="#000" stroke-width="3.3"/>
<line x1="1583.8" y1="1261.2" x2="1601.8" y2="1261.2" stroke="#000" stroke-width="3.3"/>
<circle cx="1631.3" cy="1261.2" r="6" fill="#A8A8A8"/>
<circle cx="1636.5" cy="1259.9" r="6" fill="#A8A8A8"/>
<circle cx="1642.9" cy="1259.9" r="6" fill="#A8A8A8"/>
<circle cx="1648.1" cy="1260.7" r="6" fill="#A8A8A8"/>
<circle cx="1653.2" cy="1261.2" r="6" fill="#A8A8A8"/>
<line x1="1626.2" y1="1260.7" x2="1655.8" y2="1260.7" stroke="#000" stroke-width="3.3"/>
<text x="1501.0" y="1290.0" font-size="27.3" text-anchor="end" transform="rotate(-45 1501.0 1290.0)">rmIL-12</text>
<text x="1549.8" y="1290.0" font-size="27.3" text-anchor="end" transform="rotate(-45 1549.8 1290.0)">WT</text>
<text x="1598.0" y="1290.0" font-size="27.3" text-anchor="end" transform="rotate(-45 1598.0 1290.0)">NHQ</text>
<text x="1647.5" y="1290.0" font-size="27.3" text-anchor="end" transform="rotate(-45 1647.5 1290.0)">control</text>
<line x1="1498.9" y1="1340.2" x2="1555.0" y2="1340.2" stroke="#000" stroke-width="3"/>
<text x="1446.1" y="1375.2" font-size="26" textLength="132.6" lengthAdjust="spacingAndGlyphs">mIL-12hFc</text>
</g><g id="panelG">
<text x="1669.8" y="905.8" font-size="63" style="font-weight:normal;" textLength="47.4" lengthAdjust="spacingAndGlyphs">G</text>
<text x="1781.8" y="923.8" font-size="33" textLength="158.8" lengthAdjust="spacingAndGlyphs">AUC IL-12</text>
<text x="1805.7" y="990.7" font-size="26.5" style="font-weight:normal;font-style:italic;" textLength="113.7" lengthAdjust="spacingAndGlyphs">p&lt;0.0001</text>
<line x1="1812.5" y1="999.4" x2="1915.4" y2="999.4" stroke="#000" stroke-width="2.6" stroke-linecap="round"/>
<text x="1706.3" y="1261.8" font-size="26" transform="rotate(-90 1706.3 1261.8)" textLength="276.5" lengthAdjust="spacingAndGlyphs">fold change to control</text>
<line x1="1779.6" y1="999.5" x2="1779.6" y2="1262.2" stroke="#000" stroke-width="3.6"/>
<line x1="1766.7" y1="1260.7" x2="1779.6" y2="1260.7" stroke="#000" stroke-width="3.6"/>
<text x="1761.8" y="1270.3" font-size="27.5" text-anchor="end">0</text>
<line x1="1766.7" y1="1208.8" x2="1779.6" y2="1208.8" stroke="#000" stroke-width="3.6"/>
<text x="1761.8" y="1219.0" font-size="27.5" text-anchor="end">100</text>
<line x1="1766.7" y1="1156.8" x2="1779.6" y2="1156.8" stroke="#000" stroke-width="3.6"/>
<text x="1761.8" y="1167.7" font-size="27.5" text-anchor="end">200</text>
<line x1="1766.7" y1="1104.8" x2="1779.6" y2="1104.8" stroke="#000" stroke-width="3.6"/>
<text x="1761.8" y="1116.4" font-size="27.5" text-anchor="end">300</text>
<line x1="1766.7" y1="1052.9" x2="1779.6" y2="1052.9" stroke="#000" stroke-width="3.6"/>
<text x="1761.8" y="1065.1" font-size="27.5" text-anchor="end">400</text>
<line x1="1766.7" y1="1001.0" x2="1779.6" y2="1001.0" stroke="#000" stroke-width="3.6"/>
<text x="1761.8" y="1013.8" font-size="27.5" text-anchor="end">500</text>
<line x1="1766.7" y1="1260.7" x2="1999.0" y2="1260.7" stroke="#000" stroke-width="3.6"/>
<line x1="1812.5" y1="1260.7" x2="1812.5" y2="1272.7" stroke="#000" stroke-width="3.6"/>
<line x1="1863.2" y1="1260.7" x2="1863.2" y2="1272.7" stroke="#000" stroke-width="3.6"/>
<line x1="1913.9" y1="1260.7" x2="1913.9" y2="1272.7" stroke="#000" stroke-width="3.6"/>
<line x1="1964.3" y1="1260.7" x2="1964.3" y2="1272.7" stroke="#000" stroke-width="3.6"/>
<circle cx="1812.5" cy="1019.0" r="5.8" fill="#000"/>
<circle cx="1812.5" cy="1072.7" r="5.8" fill="#000"/>
<circle cx="1812.5" cy="1096.1" r="5.8" fill="#000"/>
<circle cx="1812.5" cy="1135.2" r="5.8" fill="#000"/>
<circle cx="1812.5" cy="1145.5" r="5.8" fill="#000"/>
<circle cx="1812.5" cy="1158.4" r="5.8" fill="#000"/>
<circle cx="1800.2" cy="1179.7" r="5.8" fill="#000"/>
<circle cx="1800.2" cy="1190.5" r="5.8" fill="#000"/>
<circle cx="1813.6" cy="1186.1" r="5.8" fill="#000"/>
<circle cx="1800.2" cy="1214.4" r="5.8" fill="#000"/>
<circle cx="1812.5" cy="1209.8" r="5.8" fill="#000"/>
<circle cx="1824.6" cy="1217.0" r="5.8" fill="#000"/>
<circle cx="1806.6" cy="1232.4" r="5.8" fill="#000"/>
<circle cx="1819.0" cy="1229.6" r="5.8" fill="#000"/>
<line x1="1796.3" y1="1164.0" x2="1829.8" y2="1164.0" stroke="#000" stroke-width="3.3"/>
<line x1="1813.6" y1="1099.7" x2="1813.6" y2="1225.2" stroke="#000" stroke-width="3.3"/>
<line x1="1804.0" y1="1099.7" x2="1822.0" y2="1099.7" stroke="#000" stroke-width="3.3"/>
<circle cx="1863.2" cy="1166.1" r="7.7" fill="#00A79D"/>
<circle cx="1863.2" cy="1181.5" r="7.7" fill="#00A79D"/>
<circle cx="1860.6" cy="1240.7" r="7.7" fill="#00A79D"/>
<circle cx="1865.8" cy="1243.2" r="7.7" fill="#00A79D"/>
<circle cx="1850.3" cy="1257.4" r="7.7" fill="#00A79D"/>
<circle cx="1858.1" cy="1260.0" r="7.7" fill="#00A79D"/>
<circle cx="1868.3" cy="1260.0" r="7.7" fill="#00A79D"/>
<circle cx="1876.1" cy="1257.4" r="7.7" fill="#00A79D"/>
<circle cx="1863.2" cy="1261.2" r="7.7" fill="#00A79D"/>
<line x1="1846.5" y1="1244.0" x2="1879.9" y2="1244.0" stroke="#000" stroke-width="3.3"/>
<line x1="1863.2" y1="1218.0" x2="1863.2" y2="1261.2" stroke="#000" stroke-width="3.3"/>
<line x1="1854.2" y1="1218.0" x2="1873.0" y2="1218.0" stroke="#000" stroke-width="3.3"/>
<line x1="1854.2" y1="1261.2" x2="1873.0" y2="1261.2" stroke="#000" stroke-width="3.3"/>
<circle cx="1913.4" cy="1248.4" r="6.4" fill="#F15A24"/>
<circle cx="1904.3" cy="1252.2" r="6.4" fill="#F15A24"/>
<circle cx="1922.4" cy="1252.2" r="6.4" fill="#F15A24"/>
<circle cx="1901.8" cy="1258.7" r="6.4" fill="#F15A24"/>
<circle cx="1913.4" cy="1258.7" r="6.4" fill="#F15A24"/>
<circle cx="1924.9" cy="1258.7" r="6.4" fill="#F15A24"/>
<circle cx="1906.9" cy="1261.2" r="6.4" fill="#F15A24"/>
<circle cx="1919.8" cy="1261.2" r="6.4" fill="#F15A24"/>
<line x1="1896.1" y1="1257.4" x2="1930.1" y2="1257.4" stroke="#000" stroke-width="3.3"/>
<line x1="1913.9" y1="1253.5" x2="1913.9" y2="1261.2" stroke="#000" stroke-width="3.3"/>
<line x1="1904.3" y1="1253.5" x2="1923.6" y2="1253.5" stroke="#000" stroke-width="3.3"/>
<line x1="1904.3" y1="1261.2" x2="1923.6" y2="1261.2" stroke="#000" stroke-width="3.3"/>
<circle cx="1951.9" cy="1260.7" r="5.5" fill="#A8A8A8"/>
<circle cx="1958.4" cy="1260.2" r="5.5" fill="#A8A8A8"/>
<circle cx="1964.8" cy="1260.2" r="5.5" fill="#A8A8A8"/>
<circle cx="1971.2" cy="1260.7" r="5.5" fill="#A8A8A8"/>
<circle cx="1976.9" cy="1260.7" r="5.5" fill="#A8A8A8"/>
<line x1="1948.1" y1="1260.7" x2="1981.5" y2="1260.7" stroke="#000" stroke-width="3.3"/>
<text x="1817.4" y="1289.0" font-size="27.3" text-anchor="end" transform="rotate(-45 1817.4 1289.0)">rmIL-12</text>
<text x="1867.8" y="1289.0" font-size="27.3" text-anchor="end" transform="rotate(-45 1867.8 1289.0)">WT</text>
<text x="1918.5" y="1289.0" font-size="27.3" text-anchor="end" transform="rotate(-45 1918.5 1289.0)">NHQ</text>
<text x="1968.6" y="1289.0" font-size="27.3" text-anchor="end" transform="rotate(-45 1968.6 1289.0)">control</text>
<line x1="1828.5" y1="1335.3" x2="1883.8" y2="1335.3" stroke="#000" stroke-width="3"/>
<text x="1766.2" y="1373.9" font-size="26" textLength="132.6" lengthAdjust="spacingAndGlyphs">mIL-12hFc</text>
</g>
<g id="panelH">
<text x="-1.5" y="1443.2" font-size="64" style="font-weight:normal;" textLength="45.6" lengthAdjust="spacingAndGlyphs">H</text>
<text x="30.9" y="1768.5" font-size="26" transform="rotate(-90 30.9 1768.5)" textLength="163.8" lengthAdjust="spacingAndGlyphs">IFNγ (ng/mL)</text>
<line x1="100.2" y1="1557.0" x2="100.2" y2="1816.4" stroke="#000" stroke-width="3.8"/>
<line x1="86.7" y1="1814.5" x2="100.2" y2="1814.5" stroke="#000" stroke-width="3.8"/>
<text x="79.5" y="1824.0" font-size="27.5" text-anchor="end">0</text>
<line x1="86.7" y1="1763.4" x2="100.2" y2="1763.4" stroke="#000" stroke-width="3.8"/>
<text x="79.5" y="1772.9" font-size="27.5" text-anchor="end">5</text>
<line x1="86.7" y1="1712.3" x2="100.2" y2="1712.3" stroke="#000" stroke-width="3.8"/>
<text x="79.5" y="1721.8" font-size="27.5" text-anchor="end">10</text>
<line x1="86.7" y1="1661.1" x2="100.2" y2="1661.1" stroke="#000" stroke-width="3.8"/>
<text x="79.5" y="1670.6" font-size="27.5" text-anchor="end">15</text>
<line x1="86.7" y1="1610.0" x2="100.2" y2="1610.0" stroke="#000" stroke-width="3.8"/>
<text x="79.5" y="1619.5" font-size="27.5" text-anchor="end">20</text>
<line x1="86.7" y1="1558.9" x2="100.2" y2="1558.9" stroke="#000" stroke-width="3.8"/>
<text x="79.5" y="1568.4" font-size="27.5" text-anchor="end">25</text>
<line x1="86.7" y1="1814.5" x2="324.3" y2="1814.5" stroke="#000" stroke-width="3.8"/>
<line x1="324.3" y1="1806.5" x2="324.3" y2="1821.5" stroke="#000" stroke-width="3.4"/>
<line x1="328.3" y1="1814.5" x2="342.4" y2="1814.5" stroke="#000" stroke-width="2.2" stroke-dasharray="2 2.6"/>
<line x1="345.4" y1="1806.5" x2="345.4" y2="1821.5" stroke="#000" stroke-width="3.4"/>
<line x1="345.4" y1="1814.5" x2="356.0" y2="1814.5" stroke="#000" stroke-width="3.8"/>
<line x1="350.6" y1="1814.5" x2="350.6" y2="1826.0" stroke="#000" stroke-width="3.4"/>
<line x1="112.5" y1="1814.5" x2="112.5" y2="1820.0" stroke="#000" stroke-width="3.4"/>
<line x1="125.2" y1="1814.5" x2="125.2" y2="1825.0" stroke="#000" stroke-width="3.6"/>
<line x1="137.9" y1="1814.5" x2="137.9" y2="1820.0" stroke="#000" stroke-width="3.4"/>
<line x1="150.7" y1="1814.5" x2="150.7" y2="1820.0" stroke="#000" stroke-width="3.4"/>
<line x1="163.4" y1="1814.5" x2="163.4" y2="1820.0" stroke="#000" stroke-width="3.4"/>
<line x1="176.2" y1="1814.5" x2="176.2" y2="1820.0" stroke="#000" stroke-width="3.4"/>
<line x1="188.9" y1="1814.5" x2="188.9" y2="1820.0" stroke="#000" stroke-width="3.4"/>
<line x1="201.7" y1="1814.5" x2="201.7" y2="1820.0" stroke="#000" stroke-width="3.4"/>
<line x1="214.4" y1="1814.5" x2="214.4" y2="1825.0" stroke="#000" stroke-width="3.6"/>
<line x1="227.1" y1="1814.5" x2="227.1" y2="1820.0" stroke="#000" stroke-width="3.4"/>
<line x1="239.9" y1="1814.5" x2="239.9" y2="1820.0" stroke="#000" stroke-width="3.4"/>
<line x1="252.6" y1="1814.5" x2="252.6" y2="1820.0" stroke="#000" stroke-width="3.4"/>
<line x1="265.4" y1="1814.5" x2="265.4" y2="1820.0" stroke="#000" stroke-width="3.4"/>
<line x1="278.1" y1="1814.5" x2="278.1" y2="1820.0" stroke="#000" stroke-width="3.4"/>
<line x1="290.9" y1="1814.5" x2="290.9" y2="1820.0" stroke="#000" stroke-width="3.4"/>
<line x1="303.6" y1="1814.5" x2="303.6" y2="1825.0" stroke="#000" stroke-width="3.6"/>
<line x1="316.3" y1="1814.5" x2="316.3" y2="1820.0" stroke="#000" stroke-width="3.4"/>
<text x="123.5" y="1851.6" font-size="27.5" text-anchor="middle">21</text>
<text x="214.5" y="1851.6" font-size="27.5" text-anchor="middle">28</text>
<text x="302.4" y="1851.6" font-size="27.5" text-anchor="middle">35</text>
<text x="342.8" y="1851.6" font-size="27.5" text-anchor="middle">48</text>
<text x="246.7" y="1881.7" font-size="26" textLength="64.8" lengthAdjust="spacingAndGlyphs">Days</text>
<text x="114.8" y="1485.1" font-size="33" textLength="122.1" lengthAdjust="spacingAndGlyphs">rmIL-12</text>
<line x1="125.8" y1="1561.4" x2="125.8" y2="1812.5" stroke="#000" stroke-width="3.8" stroke-dasharray="6.9 6.9" stroke-linecap="round"/>
<line x1="125.8" y1="1517.2" x2="125.8" y2="1544.9" stroke="#000" stroke-width="3"/>
<path d="M125.8 1554.5 L116.3 1538.5 L125.8 1543.3 L135.3 1538.5 Z" fill="#000"/>
<line x1="218.1" y1="1561.4" x2="218.1" y2="1812.5" stroke="#000" stroke-width="3.8" stroke-dasharray="6.9 6.9" stroke-linecap="round"/>
<line x1="218.1" y1="1517.2" x2="218.1" y2="1544.9" stroke="#000" stroke-width="3"/>
<path d="M218.1 1554.5 L208.6 1538.5 L218.1 1543.3 L227.6 1538.5 Z" fill="#000"/>
<text x="238.3" y="1540.5" font-size="26" textLength="58.0" lengthAdjust="spacingAndGlyphs">CED</text>
<path d="M128.7 1814.3 L139.9 1791.1 L164.8 1766.2 L218.1 1799.7 L231.4 1654.4 L256.8 1777.4 L310.2 1811.8" stroke="#000" stroke-width="3.4" fill="none" stroke-linejoin="round"/>
<path d="M128.7 1814.3 L141.6 1794.6 L164.8 1773.9 L218.1 1803.2 L231.4 1682.8 L256.8 1796.3 L310.2 1813.5" stroke="#000" stroke-width="3.4" fill="none" stroke-linejoin="round"/>
<path d="M128.7 1814.3 L139.9 1798.0 L164.8 1790.3 L218.1 1798.0 L231.4 1712.0 L256.8 1798.0 L279.2 1808.3 L310.2 1813.5" stroke="#000" stroke-width="3.4" fill="none" stroke-linejoin="round"/>
<path d="M128.7 1814.3 L141.6 1801.4 L164.8 1794.6 L218.1 1808.3 L231.4 1759.3 L256.8 1803.2 L310.2 1813.8" stroke="#000" stroke-width="3.4" fill="none" stroke-linejoin="round"/>
<path d="M128.7 1814.3 L139.9 1792.8 L164.8 1808.3 L218.1 1812.6 L231.4 1779.9 L256.8 1808.3 L310.2 1813.8" stroke="#000" stroke-width="3.4" fill="none" stroke-linejoin="round"/>
<path d="M128.7 1814.3 L141.6 1804.9 L164.8 1798.0 L218.1 1810.9 L231.4 1791.1 L256.8 1813.5 L310.2 1814.3" stroke="#000" stroke-width="3.4" fill="none" stroke-linejoin="round"/>
<path d="M128.7 1814.3 L139.9 1796.3 L153.6 1801.4 L164.8 1811.8 L218.1 1813.5 L231.4 1686.2 L256.8 1801.4 L310.2 1814.2" stroke="#000" stroke-width="3.4" fill="none" stroke-linejoin="round"/>
<path d="M128.7 1814.3 L143.3 1799.7 L164.8 1792.8 L218.1 1805.7 L231.4 1718.9 L256.8 1804.9 L310.2 1814.0" stroke="#000" stroke-width="3.4" fill="none" stroke-linejoin="round"/>
<path d="M100.2 1789.4 L360.4 1789.4 L379.3 1555.9 L394.0 1555.9" stroke="#000" stroke-width="1.9" fill="none" stroke-linejoin="miter" stroke-dasharray="9.5 6"/>
<path d="M449.0 1555.9 L714.0 1555.9" stroke="#000" stroke-width="1.9" fill="none" stroke-linejoin="miter" stroke-dasharray="9.5 6"/>
<path d="M359.0 1814.5 L394.0 1813.5" stroke="#000" stroke-width="1.9" fill="none" stroke-linejoin="miter" stroke-dasharray="9.5 6"/>
<path d="M759.0 1555.9 L1033.0 1556.5" stroke="#000" stroke-width="1.9" fill="none" stroke-linejoin="miter" stroke-dasharray="9.5 6"/>
<path d="M1090.0 1559.8 L1330.5 1559.8" stroke="#000" stroke-width="1.9" fill="none" stroke-linejoin="miter" stroke-dasharray="9.5 6"/>
<line x1="446.5" y1="1554.0" x2="446.5" y2="1815.4" stroke="#000" stroke-width="3.8"/>
<line x1="435.5" y1="1813.5" x2="446.5" y2="1813.5" stroke="#000" stroke-width="3.8"/>
<text x="433.2" y="1823.0" font-size="27.5" text-anchor="end">0.0</text>
<line x1="435.5" y1="1762.0" x2="446.5" y2="1762.0" stroke="#000" stroke-width="3.8"/>
<text x="433.2" y="1771.5" font-size="27.5" text-anchor="end">0.5</text>
<line x1="435.5" y1="1710.5" x2="446.5" y2="1710.5" stroke="#000" stroke-width="3.8"/>
<text x="433.2" y="1720.0" font-size="27.5" text-anchor="end">1.0</text>
<line x1="435.5" y1="1658.9" x2="446.5" y2="1658.9" stroke="#000" stroke-width="3.8"/>
<text x="433.2" y="1668.4" font-size="27.5" text-anchor="end">1.5</text>
<line x1="435.5" y1="1607.4" x2="446.5" y2="1607.4" stroke="#000" stroke-width="3.8"/>
<text x="433.2" y="1616.9" font-size="27.5" text-anchor="end">2.0</text>
<line x1="435.5" y1="1555.9" x2="446.5" y2="1555.9" stroke="#000" stroke-width="3.8"/>
<text x="433.2" y="1565.4" font-size="27.5" text-anchor="end">2.5</text>
<line x1="435.5" y1="1813.5" x2="670.0" y2="1813.5" stroke="#000" stroke-width="3.8"/>
<line x1="670.0" y1="1805.5" x2="670.0" y2="1820.5" stroke="#000" stroke-width="3.4"/>
<line x1="674.0" y1="1813.5" x2="690.2" y2="1813.5" stroke="#000" stroke-width="2.2" stroke-dasharray="2 2.6"/>
<line x1="693.2" y1="1805.5" x2="693.2" y2="1820.5" stroke="#000" stroke-width="3.4"/>
<line x1="693.2" y1="1813.5" x2="702.6" y2="1813.5" stroke="#000" stroke-width="3.8"/>
<line x1="697.5" y1="1813.5" x2="697.5" y2="1825.0" stroke="#000" stroke-width="3.4"/>
<line x1="459.9" y1="1813.5" x2="459.9" y2="1819.0" stroke="#000" stroke-width="3.4"/>
<line x1="472.7" y1="1813.5" x2="472.7" y2="1824.0" stroke="#000" stroke-width="3.6"/>
<line x1="485.5" y1="1813.5" x2="485.5" y2="1819.0" stroke="#000" stroke-width="3.4"/>
<line x1="498.2" y1="1813.5" x2="498.2" y2="1819.0" stroke="#000" stroke-width="3.4"/>
<line x1="511.0" y1="1813.5" x2="511.0" y2="1819.0" stroke="#000" stroke-width="3.4"/>
<line x1="523.8" y1="1813.5" x2="523.8" y2="1819.0" stroke="#000" stroke-width="3.4"/>
<line x1="536.6" y1="1813.5" x2="536.6" y2="1819.0" stroke="#000" stroke-width="3.4"/>
<line x1="549.3" y1="1813.5" x2="549.3" y2="1819.0" stroke="#000" stroke-width="3.4"/>
<line x1="562.1" y1="1813.5" x2="562.1" y2="1824.0" stroke="#000" stroke-width="3.6"/>
<line x1="574.9" y1="1813.5" x2="574.9" y2="1819.0" stroke="#000" stroke-width="3.4"/>
<line x1="587.6" y1="1813.5" x2="587.6" y2="1819.0" stroke="#000" stroke-width="3.4"/>
<line x1="600.4" y1="1813.5" x2="600.4" y2="1819.0" stroke="#000" stroke-width="3.4"/>
<line x1="613.2" y1="1813.5" x2="613.2" y2="1819.0" stroke="#000" stroke-width="3.4"/>
<line x1="626.0" y1="1813.5" x2="626.0" y2="1819.0" stroke="#000" stroke-width="3.4"/>
<line x1="638.7" y1="1813.5" x2="638.7" y2="1819.0" stroke="#000" stroke-width="3.4"/>
<line x1="651.5" y1="1813.5" x2="651.5" y2="1824.0" stroke="#000" stroke-width="3.6"/>
<line x1="664.3" y1="1813.5" x2="664.3" y2="1819.0" stroke="#000" stroke-width="3.4"/>
<text x="473.0" y="1854.8" font-size="27.5" text-anchor="middle">21</text>
<text x="562.5" y="1854.8" font-size="27.5" text-anchor="middle">28</text>
<text x="650.5" y="1854.8" font-size="27.5" text-anchor="middle">35</text>
<text x="692.0" y="1854.8" font-size="27.5" text-anchor="middle">48</text>
<text x="528.5" y="1881.7" font-size="26" textLength="64.8" lengthAdjust="spacingAndGlyphs">Days</text>
<text x="463.2" y="1482.3" font-size="33" textLength="229.7" lengthAdjust="spacingAndGlyphs">mIL-12hFc WT</text>
<line x1="471.4" y1="1558.4" x2="471.4" y2="1811.5" stroke="#000" stroke-width="3.8" stroke-dasharray="6.9 6.9" stroke-linecap="round"/>
<line x1="471.4" y1="1517.0" x2="471.4" y2="1542.9" stroke="#000" stroke-width="3"/>
<path d="M471.4 1552.5 L461.9 1536.5 L471.4 1541.3 L480.9 1536.5 Z" fill="#000"/>
<line x1="563.9" y1="1558.4" x2="563.9" y2="1811.5" stroke="#000" stroke-width="3.8" stroke-dasharray="6.9 6.9" stroke-linecap="round"/>
<line x1="563.9" y1="1517.0" x2="563.9" y2="1542.9" stroke="#000" stroke-width="3"/>
<path d="M563.9 1552.5 L554.4 1536.5 L563.9 1541.3 L573.4 1536.5 Z" fill="#000"/>
<text x="582.7" y="1540.5" font-size="26" textLength="58.0" lengthAdjust="spacingAndGlyphs">CED</text>
<path d="M473.0 1813.5 L484.7 1640.6 L509.1 1796.3 L562.4 1804.9 L567.6 1581.3 L577.6 1757.6" stroke="#00A79D" stroke-width="3.4" fill="none" stroke-linejoin="round"/>
<path d="M473.0 1813.5 L484.7 1751.6 L509.1 1784.2 L562.4 1798.9 L567.6 1768.8 L577.6 1767.0 L603.7 1768.8 L636.4 1798.0 L669.9 1806.6" stroke="#00A79D" stroke-width="3.4" fill="none" stroke-linejoin="round"/>
<path d="M473.0 1813.5 L484.7 1761.9 L509.1 1798.0 L562.4 1806.6 L577.6 1780.8 L603.7 1787.7 L653.6 1808.3 L669.9 1811.8" stroke="#00A79D" stroke-width="3.4" fill="none" stroke-linejoin="round"/>
<path d="M473.0 1813.5 L484.7 1768.8 L509.1 1801.4 L540.1 1804.9 L562.4 1803.2 L577.6 1777.4 L602.0 1808.3 L669.9 1812.6" stroke="#00A79D" stroke-width="3.4" fill="none" stroke-linejoin="round"/>
<path d="M473.0 1813.5 L484.7 1777.4 L509.1 1804.9 L562.4 1808.3 L577.6 1787.7 L619.2 1798.0 L653.6 1811.8" stroke="#00A79D" stroke-width="3.4" fill="none" stroke-linejoin="round"/>
<path d="M473.0 1813.5 L484.7 1784.2 L509.1 1808.3 L562.4 1810.0 L577.6 1794.6 L603.7 1798.0 L653.6 1812.6" stroke="#00A79D" stroke-width="3.4" fill="none" stroke-linejoin="round"/>
<path d="M473.0 1813.5 L484.7 1792.8 L498.8 1798.0 L509.1 1810.0 L562.4 1811.8 L577.6 1799.7 L603.7 1803.2 L653.6 1813.1" stroke="#00A79D" stroke-width="3.4" fill="none" stroke-linejoin="round"/>
<path d="M473.0 1813.5 L484.7 1799.7 L509.1 1798.0 L540.1 1808.3 L562.4 1812.6 L577.6 1804.9 L588.2 1803.2 L603.7 1813.5" stroke="#00A79D" stroke-width="3.4" fill="none" stroke-linejoin="round"/>
<path d="M485.0 1813.5 L495.4 1801.4 L509.1 1811.8 L562.4 1813.5 L571.0 1813.5 L577.6 1805.7 L603.7 1804.9 L636.4 1812.6 L669.9 1813.5" stroke="#00A79D" stroke-width="3.4" fill="none" stroke-linejoin="round"/>
<path d="M694.0 1811.0 L702.0 1813.0" stroke="#00A79D" stroke-width="3" fill="none" stroke-linejoin="miter"/>
<line x1="771.5" y1="1553.8" x2="771.5" y2="1815.3" stroke="#000" stroke-width="3.8"/>
<line x1="759.5" y1="1813.4" x2="771.5" y2="1813.4" stroke="#000" stroke-width="3.8"/>
<text x="751.9" y="1822.9" font-size="27.5" text-anchor="end">0.0</text>
<line x1="759.5" y1="1761.9" x2="771.5" y2="1761.9" stroke="#000" stroke-width="3.8"/>
<text x="751.9" y="1771.4" font-size="27.5" text-anchor="end">0.5</text>
<line x1="759.5" y1="1710.3" x2="771.5" y2="1710.3" stroke="#000" stroke-width="3.8"/>
<text x="751.9" y="1719.8" font-size="27.5" text-anchor="end">1.0</text>
<line x1="759.5" y1="1658.8" x2="771.5" y2="1658.8" stroke="#000" stroke-width="3.8"/>
<text x="751.9" y="1668.3" font-size="27.5" text-anchor="end">1.5</text>
<line x1="759.5" y1="1607.2" x2="771.5" y2="1607.2" stroke="#000" stroke-width="3.8"/>
<text x="751.9" y="1616.7" font-size="27.5" text-anchor="end">2.0</text>
<line x1="759.5" y1="1555.7" x2="771.5" y2="1555.7" stroke="#000" stroke-width="3.8"/>
<text x="751.9" y="1565.2" font-size="27.5" text-anchor="end">2.5</text>
<line x1="759.5" y1="1813.4" x2="993.1" y2="1813.4" stroke="#000" stroke-width="3.8"/>
<line x1="993.1" y1="1805.4" x2="993.1" y2="1820.4" stroke="#000" stroke-width="3.4"/>
<line x1="997.1" y1="1813.4" x2="1013.4" y2="1813.4" stroke="#000" stroke-width="2.2" stroke-dasharray="2 2.6"/>
<line x1="1016.4" y1="1805.4" x2="1016.4" y2="1820.4" stroke="#000" stroke-width="3.4"/>
<line x1="1016.4" y1="1813.4" x2="1025.2" y2="1813.4" stroke="#000" stroke-width="3.8"/>
<line x1="1021.2" y1="1813.4" x2="1021.2" y2="1824.9" stroke="#000" stroke-width="3.4"/>
<line x1="781.2" y1="1813.4" x2="781.2" y2="1818.9" stroke="#000" stroke-width="3.4"/>
<line x1="794.4" y1="1813.4" x2="794.4" y2="1823.9" stroke="#000" stroke-width="3.6"/>
<line x1="807.6" y1="1813.4" x2="807.6" y2="1818.9" stroke="#000" stroke-width="3.4"/>
<line x1="820.8" y1="1813.4" x2="820.8" y2="1818.9" stroke="#000" stroke-width="3.4"/>
<line x1="834.0" y1="1813.4" x2="834.0" y2="1818.9" stroke="#000" stroke-width="3.4"/>
<line x1="847.1" y1="1813.4" x2="847.1" y2="1818.9" stroke="#000" stroke-width="3.4"/>
<line x1="860.3" y1="1813.4" x2="860.3" y2="1818.9" stroke="#000" stroke-width="3.4"/>
<line x1="873.5" y1="1813.4" x2="873.5" y2="1818.9" stroke="#000" stroke-width="3.4"/>
<line x1="886.7" y1="1813.4" x2="886.7" y2="1823.9" stroke="#000" stroke-width="3.6"/>
<line x1="899.9" y1="1813.4" x2="899.9" y2="1818.9" stroke="#000" stroke-width="3.4"/>
<line x1="913.1" y1="1813.4" x2="913.1" y2="1818.9" stroke="#000" stroke-width="3.4"/>
<line x1="926.3" y1="1813.4" x2="926.3" y2="1818.9" stroke="#000" stroke-width="3.4"/>
<line x1="939.4" y1="1813.4" x2="939.4" y2="1818.9" stroke="#000" stroke-width="3.4"/>
<line x1="952.6" y1="1813.4" x2="952.6" y2="1818.9" stroke="#000" stroke-width="3.4"/>
<line x1="965.8" y1="1813.4" x2="965.8" y2="1818.9" stroke="#000" stroke-width="3.4"/>
<line x1="979.0" y1="1813.4" x2="979.0" y2="1823.9" stroke="#000" stroke-width="3.6"/>
<text x="793.6" y="1853.6" font-size="27.5" text-anchor="middle">21</text>
<text x="886.7" y="1853.6" font-size="27.5" text-anchor="middle">28</text>
<text x="979.0" y="1853.6" font-size="27.5" text-anchor="middle">35</text>
<text x="1020.4" y="1853.6" font-size="27.5" text-anchor="middle">48</text>
<text x="848.1" y="1881.7" font-size="26" textLength="64.8" lengthAdjust="spacingAndGlyphs">Days</text>
<text x="771.5" y="1485.1" font-size="33" textLength="252.6" lengthAdjust="spacingAndGlyphs">mIL-12hFc NHQ</text>
<line x1="794.4" y1="1558.2" x2="794.4" y2="1811.4" stroke="#000" stroke-width="3.8" stroke-dasharray="6.9 6.9" stroke-linecap="round"/>
<line x1="794.4" y1="1516.4" x2="794.4" y2="1544.1" stroke="#000" stroke-width="3"/>
<path d="M794.4 1553.7 L784.9 1537.7 L794.4 1542.5 L803.9 1537.7 Z" fill="#000"/>
<line x1="886.7" y1="1558.2" x2="886.7" y2="1811.4" stroke="#000" stroke-width="3.8" stroke-dasharray="6.9 6.9" stroke-linecap="round"/>
<line x1="886.7" y1="1516.4" x2="886.7" y2="1544.1" stroke="#000" stroke-width="3"/>
<path d="M886.7 1553.7 L877.2 1537.7 L886.7 1542.5 L896.2 1537.7 Z" fill="#000"/>
<text x="905.5" y="1539.7" font-size="26" textLength="58.0" lengthAdjust="spacingAndGlyphs">CED</text>
<path d="M794.4 1813.4 L807.6 1763.9 L832.6 1808.2 L860.3 1811.3 L886.7 1811.3 L890.7 1799.3 L902.5 1799.3 L917.0 1804.4 L927.6 1798.4 L969.8 1810.3 L992.2 1811.3" stroke="#F15A24" stroke-width="3.4" fill="none" stroke-linejoin="round"/>
<path d="M794.4 1813.4 L807.6 1772.2 L832.6 1808.2 L860.3 1811.3 L886.7 1811.3 L890.7 1800.8 L902.5 1800.8 L917.0 1805.4 L927.6 1800.0 L969.8 1810.3 L992.2 1811.3" stroke="#F15A24" stroke-width="3.4" fill="none" stroke-linejoin="round"/>
<path d="M794.4 1813.4 L807.6 1782.5 L832.6 1808.2 L860.3 1811.3 L886.7 1811.3 L890.7 1802.7 L902.5 1802.7 L917.0 1806.6 L927.6 1802.1 L969.8 1810.3 L992.2 1811.3" stroke="#F15A24" stroke-width="3.4" fill="none" stroke-linejoin="round"/>
<path d="M794.4 1813.4 L807.6 1790.7 L832.6 1808.2 L860.3 1811.3 L886.7 1811.3 L890.7 1804.2 L902.5 1804.2 L917.0 1807.6 L927.6 1803.7 L969.8 1810.3 L992.2 1811.3" stroke="#F15A24" stroke-width="3.4" fill="none" stroke-linejoin="round"/>
<path d="M794.4 1813.4 L807.6 1799.0 L832.6 1808.2 L860.3 1811.3 L886.7 1811.3 L890.7 1805.6 L902.5 1805.6 L917.0 1808.6 L927.6 1805.4 L969.8 1810.3 L992.2 1811.3" stroke="#F15A24" stroke-width="3.4" fill="none" stroke-linejoin="round"/>
<path d="M794.4 1813.4 L807.6 1806.2 L832.6 1808.2 L860.3 1811.3 L886.7 1811.3 L890.7 1806.9 L902.5 1806.9 L917.0 1809.4 L927.6 1806.8 L969.8 1810.3 L992.2 1811.3" stroke="#F15A24" stroke-width="3.4" fill="none" stroke-linejoin="round"/>
<path d="M1017.0 1812.5 L1025.0 1813.0" stroke="#F15A24" stroke-width="3" fill="none" stroke-linejoin="miter"/>
<line x1="1089.4" y1="1557.9" x2="1089.4" y2="1812.5" stroke="#000" stroke-width="3.8"/>
<line x1="1078.6" y1="1810.6" x2="1089.4" y2="1810.6" stroke="#000" stroke-width="3.8"/>
<text x="1071.0" y="1825.0" font-size="27.5" text-anchor="end">0.0</text>
<line x1="1078.6" y1="1760.4" x2="1089.4" y2="1760.4" stroke="#000" stroke-width="3.8"/>
<text x="1071.0" y="1774.3" font-size="27.5" text-anchor="end">0.5</text>
<line x1="1078.6" y1="1710.3" x2="1089.4" y2="1710.3" stroke="#000" stroke-width="3.8"/>
<text x="1071.0" y="1723.6" font-size="27.5" text-anchor="end">1.0</text>
<line x1="1078.6" y1="1660.1" x2="1089.4" y2="1660.1" stroke="#000" stroke-width="3.8"/>
<text x="1071.0" y="1672.9" font-size="27.5" text-anchor="end">1.5</text>
<line x1="1078.6" y1="1610.0" x2="1089.4" y2="1610.0" stroke="#000" stroke-width="3.8"/>
<text x="1071.0" y="1622.2" font-size="27.5" text-anchor="end">2.0</text>
<line x1="1078.6" y1="1559.8" x2="1089.4" y2="1559.8" stroke="#000" stroke-width="3.8"/>
<text x="1071.0" y="1571.5" font-size="27.5" text-anchor="end">2.5</text>
<line x1="1078.6" y1="1810.6" x2="1308.2" y2="1810.6" stroke="#000" stroke-width="3.8"/>
<line x1="1308.2" y1="1802.6" x2="1308.2" y2="1817.6" stroke="#000" stroke-width="3.4"/>
<line x1="1312.2" y1="1810.6" x2="1327.3" y2="1810.6" stroke="#000" stroke-width="2.2" stroke-dasharray="2 2.6"/>
<line x1="1330.3" y1="1802.6" x2="1330.3" y2="1817.6" stroke="#000" stroke-width="3.4"/>
<line x1="1330.3" y1="1810.6" x2="1340.3" y2="1810.6" stroke="#000" stroke-width="3.8"/>
<line x1="1335.0" y1="1810.6" x2="1335.0" y2="1822.1" stroke="#000" stroke-width="3.4"/>
<line x1="1102.8" y1="1810.6" x2="1102.8" y2="1816.1" stroke="#000" stroke-width="3.4"/>
<line x1="1115.5" y1="1810.6" x2="1115.5" y2="1821.1" stroke="#000" stroke-width="3.6"/>
<line x1="1128.2" y1="1810.6" x2="1128.2" y2="1816.1" stroke="#000" stroke-width="3.4"/>
<line x1="1141.0" y1="1810.6" x2="1141.0" y2="1816.1" stroke="#000" stroke-width="3.4"/>
<line x1="1153.7" y1="1810.6" x2="1153.7" y2="1816.1" stroke="#000" stroke-width="3.4"/>
<line x1="1166.4" y1="1810.6" x2="1166.4" y2="1816.1" stroke="#000" stroke-width="3.4"/>
<line x1="1179.1" y1="1810.6" x2="1179.1" y2="1816.1" stroke="#000" stroke-width="3.4"/>
<line x1="1191.9" y1="1810.6" x2="1191.9" y2="1816.1" stroke="#000" stroke-width="3.4"/>
<line x1="1204.6" y1="1810.6" x2="1204.6" y2="1821.1" stroke="#000" stroke-width="3.6"/>
<line x1="1217.3" y1="1810.6" x2="1217.3" y2="1816.1" stroke="#000" stroke-width="3.4"/>
<line x1="1230.1" y1="1810.6" x2="1230.1" y2="1816.1" stroke="#000" stroke-width="3.4"/>
<line x1="1242.8" y1="1810.6" x2="1242.8" y2="1816.1" stroke="#000" stroke-width="3.4"/>
<line x1="1255.5" y1="1810.6" x2="1255.5" y2="1816.1" stroke="#000" stroke-width="3.4"/>
<line x1="1268.2" y1="1810.6" x2="1268.2" y2="1816.1" stroke="#000" stroke-width="3.4"/>
<line x1="1281.0" y1="1810.6" x2="1281.0" y2="1816.1" stroke="#000" stroke-width="3.4"/>
<line x1="1293.7" y1="1810.6" x2="1293.7" y2="1821.1" stroke="#000" stroke-width="3.6"/>
<text x="1114.3" y="1849.6" font-size="27.5" text-anchor="middle">21</text>
<text x="1203.8" y="1849.6" font-size="27.5" text-anchor="middle">28</text>
<text x="1292.1" y="1849.6" font-size="27.5" text-anchor="middle">35</text>
<text x="1333.0" y="1849.6" font-size="27.5" text-anchor="middle">48</text>
<text x="1173.2" y="1881.7" font-size="26" textLength="64.8" lengthAdjust="spacingAndGlyphs">Days</text>
<text x="1113.8" y="1482.3" font-size="33" textLength="114.5" lengthAdjust="spacingAndGlyphs">control</text>
<line x1="1115.5" y1="1562.3" x2="1115.5" y2="1808.6" stroke="#000" stroke-width="3.8" stroke-dasharray="6.9 6.9" stroke-linecap="round"/>
<line x1="1115.5" y1="1519.2" x2="1115.5" y2="1546.9" stroke="#000" stroke-width="3"/>
<path d="M1115.5 1556.5 L1106.0 1540.5 L1115.5 1545.3 L1125.0 1540.5 Z" fill="#000"/>
<line x1="1205.8" y1="1562.3" x2="1205.8" y2="1808.6" stroke="#000" stroke-width="3.8" stroke-dasharray="6.9 6.9" stroke-linecap="round"/>
<line x1="1205.8" y1="1519.2" x2="1205.8" y2="1546.9" stroke="#000" stroke-width="3"/>
<path d="M1205.8 1556.5 L1196.3 1540.5 L1205.8 1545.3 L1215.3 1540.5 Z" fill="#000"/>
<text x="1229.4" y="1542.5" font-size="26" textLength="58.0" lengthAdjust="spacingAndGlyphs">CED</text>
<path d="M1115.5 1810.6 L1119.3 1804.3 L1132.0 1807.6 L1153.7 1805.1 L1191.9 1808.6 L1204.6 1808.6 L1217.3 1805.1 L1236.4 1808.6 L1293.7 1809.6" stroke="#A8A8A8" stroke-width="3.4" fill="none" stroke-linejoin="round"/>
<path d="M1115.5 1810.6 L1119.3 1806.8 L1132.0 1809.1 L1153.7 1807.6 L1191.9 1809.6 L1217.3 1807.6 L1236.4 1809.6 L1293.7 1810.1" stroke="#A8A8A8" stroke-width="3.4" fill="none" stroke-linejoin="round"/>
</g>
<g id="panelI">
<text x="1376.6" y="1442.4" font-size="63" text-anchor="middle" style="font-weight:normal;">I</text>
<text x="1425.8" y="1467.4" font-size="33" textLength="216.8" lengthAdjust="spacingAndGlyphs">1st IFNγ peak</text>
<text x="1470.8" y="1508.0" font-size="33" textLength="139.1" lengthAdjust="spacingAndGlyphs">(24/72 h)</text>
<text x="1454.4" y="1553.0" font-size="26.5" style="font-weight:normal;font-style:italic;" textLength="115.2" lengthAdjust="spacingAndGlyphs">p&lt;0.0001</text>
<line x1="1470.0" y1="1561.5" x2="1566.5" y2="1561.5" stroke="#000" stroke-width="2.6" stroke-linecap="round"/>
<text x="1390.3" y="1764.0" font-size="26" transform="rotate(-90 1390.3 1764.0)" textLength="158.2" lengthAdjust="spacingAndGlyphs">IFNγ (ng/mL)</text>
<line x1="1437.9" y1="1557.7" x2="1437.9" y2="1818.5" stroke="#000" stroke-width="3.6"/>
<line x1="1426.4" y1="1816.7" x2="1437.9" y2="1816.7" stroke="#000" stroke-width="3.6"/>
<text x="1420.0" y="1826.7" font-size="27.5" text-anchor="end">0</text>
<line x1="1426.4" y1="1765.3" x2="1437.9" y2="1765.3" stroke="#000" stroke-width="3.6"/>
<text x="1420.0" y="1775.3" font-size="27.5" text-anchor="end">1</text>
<line x1="1426.4" y1="1713.8" x2="1437.9" y2="1713.8" stroke="#000" stroke-width="3.6"/>
<text x="1420.0" y="1723.8" font-size="27.5" text-anchor="end">2</text>
<line x1="1426.4" y1="1662.4" x2="1437.9" y2="1662.4" stroke="#000" stroke-width="3.6"/>
<text x="1420.0" y="1672.4" font-size="27.5" text-anchor="end">3</text>
<line x1="1426.4" y1="1610.9" x2="1437.9" y2="1610.9" stroke="#000" stroke-width="3.6"/>
<text x="1420.0" y="1620.9" font-size="27.5" text-anchor="end">4</text>
<line x1="1426.4" y1="1559.5" x2="1437.9" y2="1559.5" stroke="#000" stroke-width="3.6"/>
<text x="1420.0" y="1569.5" font-size="27.5" text-anchor="end">5</text>
<line x1="1426.4" y1="1816.7" x2="1648.0" y2="1816.7" stroke="#000" stroke-width="3.6"/>
<line x1="1470.1" y1="1816.7" x2="1470.1" y2="1828.5" stroke="#000" stroke-width="3.6"/>
<line x1="1518.2" y1="1816.7" x2="1518.2" y2="1828.5" stroke="#000" stroke-width="3.6"/>
<line x1="1566.5" y1="1816.7" x2="1566.5" y2="1828.5" stroke="#000" stroke-width="3.6"/>
<line x1="1614.6" y1="1816.7" x2="1614.6" y2="1828.5" stroke="#000" stroke-width="3.6"/>
<circle cx="1471.1" cy="1572.8" r="6.4" fill="#000"/>
<circle cx="1471.1" cy="1608.8" r="6.4" fill="#000"/>
<circle cx="1459.8" cy="1690.6" r="6.4" fill="#000"/>
<circle cx="1459.0" cy="1701.4" r="6.4" fill="#000"/>
<circle cx="1482.2" cy="1699.6" r="6.4" fill="#000"/>
<circle cx="1471.1" cy="1714.3" r="6.4" fill="#000"/>
<circle cx="1459.0" cy="1778.1" r="6.4" fill="#000"/>
<circle cx="1482.2" cy="1778.6" r="6.4" fill="#000"/>
<circle cx="1471.1" cy="1797.4" r="6.4" fill="#000"/>
<line x1="1460.3" y1="1705.5" x2="1486.5" y2="1705.5" stroke="#000" stroke-width="3.3"/>
<line x1="1471.1" y1="1628.4" x2="1471.1" y2="1780.1" stroke="#000" stroke-width="3.3"/>
<line x1="1462.9" y1="1628.4" x2="1479.6" y2="1628.4" stroke="#000" stroke-width="3.3"/>
<line x1="1462.9" y1="1780.1" x2="1479.6" y2="1780.1" stroke="#000" stroke-width="3.3"/>
<circle cx="1519.5" cy="1730.0" r="7.7" fill="#00A79D"/>
<circle cx="1531.0" cy="1785.0" r="7.7" fill="#00A79D"/>
<circle cx="1514.3" cy="1790.9" r="7.7" fill="#00A79D"/>
<circle cx="1524.6" cy="1793.5" r="7.7" fill="#00A79D"/>
<circle cx="1507.9" cy="1797.4" r="7.7" fill="#00A79D"/>
<circle cx="1531.0" cy="1799.9" r="7.7" fill="#00A79D"/>
<circle cx="1507.9" cy="1808.9" r="7.7" fill="#00A79D"/>
<circle cx="1519.5" cy="1806.4" r="7.7" fill="#00A79D"/>
<circle cx="1529.7" cy="1805.1" r="7.7" fill="#00A79D"/>
<circle cx="1516.4" cy="1816.6" r="7.7" fill="#00A79D"/>
<line x1="1503.3" y1="1792.2" x2="1534.9" y2="1792.2" stroke="#000" stroke-width="3.3"/>
<line x1="1519.5" y1="1767.8" x2="1519.5" y2="1815.4" stroke="#000" stroke-width="3.3"/>
<line x1="1510.5" y1="1767.8" x2="1528.5" y2="1767.8" stroke="#000" stroke-width="3.3"/>
<line x1="1510.5" y1="1815.4" x2="1528.5" y2="1815.4" stroke="#000" stroke-width="3.3"/>
<circle cx="1565.8" cy="1793.5" r="7" fill="#F15A24"/>
<circle cx="1572.2" cy="1793.5" r="7" fill="#F15A24"/>
<circle cx="1558.0" cy="1803.8" r="7" fill="#F15A24"/>
<circle cx="1568.8" cy="1801.2" r="7" fill="#F15A24"/>
<circle cx="1577.3" cy="1811.5" r="7" fill="#F15A24"/>
<circle cx="1559.3" cy="1814.1" r="7" fill="#F15A24"/>
<circle cx="1565.8" cy="1816.6" r="7" fill="#F15A24"/>
<circle cx="1573.5" cy="1816.6" r="7" fill="#F15A24"/>
<line x1="1552.4" y1="1808.4" x2="1583.8" y2="1808.4" stroke="#000" stroke-width="3.3"/>
<line x1="1567.8" y1="1798.1" x2="1567.8" y2="1816.6" stroke="#000" stroke-width="3.3"/>
<line x1="1558.6" y1="1798.1" x2="1576.6" y2="1798.1" stroke="#000" stroke-width="3.3"/>
<line x1="1558.6" y1="1816.6" x2="1576.6" y2="1816.6" stroke="#000" stroke-width="3.3"/>
<circle cx="1604.3" cy="1816.6" r="5.5" fill="#A8A8A8"/>
<circle cx="1610.8" cy="1816.1" r="5.5" fill="#A8A8A8"/>
<circle cx="1617.2" cy="1816.6" r="5.5" fill="#A8A8A8"/>
<circle cx="1622.3" cy="1816.1" r="5.5" fill="#A8A8A8"/>
<circle cx="1627.5" cy="1816.6" r="5.5" fill="#A8A8A8"/>
<line x1="1600.5" y1="1816.6" x2="1631.3" y2="1816.6" stroke="#000" stroke-width="3.3"/>
<text x="1472.5" y="1844.5" font-size="27.3" text-anchor="end" transform="rotate(-45 1472.5 1844.5)">rmIL-12</text>
<text x="1520.5" y="1844.5" font-size="27.3" text-anchor="end" transform="rotate(-45 1520.5 1844.5)">WT</text>
<text x="1569.0" y="1844.5" font-size="27.3" text-anchor="end" transform="rotate(-45 1569.0 1844.5)">NHQ</text>
<text x="1617.0" y="1844.5" font-size="27.3" text-anchor="end" transform="rotate(-45 1617.0 1844.5)">control</text>
<line x1="1466.0" y1="1893.8" x2="1521.5" y2="1893.8" stroke="#000" stroke-width="3"/>
<text x="1415.8" y="1929.8" font-size="26" textLength="132.6" lengthAdjust="spacingAndGlyphs">mIL-12hFc</text>
</g><g id="panelJ">
<text x="1668.4" y="1442.4" font-size="63" style="font-weight:normal;" textLength="32.0" lengthAdjust="spacingAndGlyphs">J</text>
<text x="1783.6" y="1467.4" font-size="33" textLength="153.2" lengthAdjust="spacingAndGlyphs">AUC IFNγ</text>
<text x="1786.0" y="1542.7" font-size="26.5" style="font-weight:normal;font-style:italic;" textLength="114.6" lengthAdjust="spacingAndGlyphs">p&lt;0.0001</text>
<line x1="1802.2" y1="1551.8" x2="1902.3" y2="1551.8" stroke="#000" stroke-width="2.6" stroke-linecap="round"/>
<text x="1697.3" y="1830.8" font-size="26" transform="rotate(-90 1697.3 1830.8)" textLength="275.8" lengthAdjust="spacingAndGlyphs">fold change to control</text>
<line x1="1770.6" y1="1561.5" x2="1770.6" y2="1618.1" stroke="#000" stroke-width="3.6"/>
<line x1="1761.0" y1="1618.1" x2="1778.3" y2="1618.1" stroke="#000" stroke-width="3.6"/>
<line x1="1753.9" y1="1572.8" x2="1770.6" y2="1572.8" stroke="#000" stroke-width="3.6"/>
<text x="1749.5" y="1582.3" font-size="27.5" text-anchor="end">600</text>
<line x1="1753.9" y1="1605.8" x2="1770.6" y2="1605.8" stroke="#000" stroke-width="3.6"/>
<text x="1749.5" y="1615.3" font-size="27.5" text-anchor="end">200</text>
<line x1="1770.6" y1="1630.7" x2="1770.6" y2="1816.4" stroke="#000" stroke-width="3.6"/>
<line x1="1761.0" y1="1630.7" x2="1778.3" y2="1630.7" stroke="#000" stroke-width="3.6"/>
<line x1="1756.5" y1="1814.6" x2="1770.6" y2="1814.6" stroke="#000" stroke-width="3.6"/>
<text x="1749.5" y="1824.1" font-size="27.5" text-anchor="end">0</text>
<line x1="1756.5" y1="1777.8" x2="1770.6" y2="1777.8" stroke="#000" stroke-width="3.6"/>
<text x="1749.5" y="1787.3" font-size="27.5" text-anchor="end">10</text>
<line x1="1756.5" y1="1741.0" x2="1770.6" y2="1741.0" stroke="#000" stroke-width="3.6"/>
<text x="1749.5" y="1750.5" font-size="27.5" text-anchor="end">20</text>
<line x1="1756.5" y1="1704.3" x2="1770.6" y2="1704.3" stroke="#000" stroke-width="3.6"/>
<text x="1749.5" y="1713.8" font-size="27.5" text-anchor="end">30</text>
<line x1="1756.5" y1="1667.5" x2="1770.6" y2="1667.5" stroke="#000" stroke-width="3.6"/>
<text x="1749.5" y="1677.0" font-size="27.5" text-anchor="end">40</text>
<text x="1749.5" y="1640.2" font-size="27.5" text-anchor="end">50</text>
<line x1="1756.5" y1="1814.6" x2="1986.7" y2="1814.6" stroke="#000" stroke-width="3.6"/>
<line x1="1804.5" y1="1814.6" x2="1804.5" y2="1826.0" stroke="#000" stroke-width="3.6"/>
<line x1="1854.2" y1="1814.6" x2="1854.2" y2="1826.0" stroke="#000" stroke-width="3.6"/>
<line x1="1904.3" y1="1814.6" x2="1904.3" y2="1826.0" stroke="#000" stroke-width="3.6"/>
<line x1="1954.5" y1="1814.6" x2="1954.5" y2="1826.0" stroke="#000" stroke-width="3.6"/>
<circle cx="1798.9" cy="1562.6" r="5.8" fill="#000"/>
<circle cx="1811.2" cy="1568.5" r="5.8" fill="#000"/>
<circle cx="1805.3" cy="1577.5" r="5.8" fill="#000"/>
<circle cx="1805.3" cy="1596.8" r="5.8" fill="#000"/>
<circle cx="1792.5" cy="1605.8" r="5.8" fill="#000"/>
<circle cx="1816.9" cy="1605.8" r="5.8" fill="#000"/>
<circle cx="1798.9" cy="1614.8" r="5.8" fill="#000"/>
<circle cx="1811.2" cy="1613.5" r="5.8" fill="#000"/>
<circle cx="1805.3" cy="1616.1" r="5.8" fill="#000"/>
<circle cx="1805.3" cy="1679.1" r="5.8" fill="#000"/>
<circle cx="1805.3" cy="1723.3" r="5.8" fill="#000"/>
<circle cx="1811.2" cy="1757.0" r="5.8" fill="#000"/>
<circle cx="1804.6" cy="1762.2" r="5.8" fill="#000"/>
<circle cx="1805.3" cy="1801.2" r="5.8" fill="#000"/>
<line x1="1786.0" y1="1601.9" x2="1820.8" y2="1601.9" stroke="#000" stroke-width="3.3"/>
<line x1="1805.3" y1="1583.9" x2="1805.3" y2="1617.3" stroke="#000" stroke-width="3.3"/>
<line x1="1796.3" y1="1583.9" x2="1814.3" y2="1583.9" stroke="#000" stroke-width="3.3"/>
<line x1="1805.3" y1="1630.7" x2="1805.3" y2="1814.6" stroke="#000" stroke-width="3.3"/>
<circle cx="1851.6" cy="1646.9" r="7.3" fill="#00A79D"/>
<circle cx="1858.1" cy="1647.4" r="7.3" fill="#00A79D"/>
<circle cx="1854.2" cy="1698.4" r="7.3" fill="#00A79D"/>
<circle cx="1854.2" cy="1709.9" r="7.3" fill="#00A79D"/>
<circle cx="1854.2" cy="1735.7" r="7.3" fill="#00A79D"/>
<circle cx="1854.2" cy="1750.3" r="7.3" fill="#00A79D"/>
<circle cx="1842.6" cy="1780.7" r="7.3" fill="#00A79D"/>
<circle cx="1851.6" cy="1778.1" r="7.3" fill="#00A79D"/>
<circle cx="1865.8" cy="1778.1" r="7.3" fill="#00A79D"/>
<circle cx="1849.0" cy="1788.4" r="7.3" fill="#00A79D"/>
<circle cx="1860.6" cy="1788.4" r="7.3" fill="#00A79D"/>
<circle cx="1846.5" cy="1801.2" r="7.3" fill="#00A79D"/>
<circle cx="1861.9" cy="1800.0" r="7.3" fill="#00A79D"/>
<circle cx="1854.2" cy="1803.8" r="7.3" fill="#00A79D"/>
<line x1="1837.0" y1="1754.2" x2="1871.4" y2="1754.2" stroke="#000" stroke-width="3.3"/>
<line x1="1854.2" y1="1703.0" x2="1854.2" y2="1805.1" stroke="#000" stroke-width="3.3"/>
<line x1="1844.7" y1="1703.0" x2="1864.0" y2="1703.0" stroke="#000" stroke-width="3.3"/>
<line x1="1844.7" y1="1805.1" x2="1864.0" y2="1805.1" stroke="#000" stroke-width="3.3"/>
<circle cx="1904.9" cy="1754.9" r="6.4" fill="#F15A24"/>
<circle cx="1895.3" cy="1785.8" r="6.4" fill="#F15A24"/>
<circle cx="1915.9" cy="1785.0" r="6.4" fill="#F15A24"/>
<circle cx="1903.1" cy="1791.0" r="6.4" fill="#F15A24"/>
<circle cx="1897.9" cy="1797.4" r="6.4" fill="#F15A24"/>
<circle cx="1910.8" cy="1797.4" r="6.4" fill="#F15A24"/>
<circle cx="1905.6" cy="1806.4" r="6.4" fill="#F15A24"/>
<circle cx="1897.9" cy="1814.1" r="6.4" fill="#F15A24"/>
<circle cx="1912.1" cy="1814.1" r="6.4" fill="#F15A24"/>
<line x1="1887.6" y1="1794.8" x2="1922.9" y2="1794.8" stroke="#000" stroke-width="3.3"/>
<line x1="1905.6" y1="1780.2" x2="1905.6" y2="1809.5" stroke="#000" stroke-width="3.3"/>
<line x1="1896.1" y1="1780.2" x2="1914.6" y2="1780.2" stroke="#000" stroke-width="3.3"/>
<line x1="1896.1" y1="1809.5" x2="1914.6" y2="1809.5" stroke="#000" stroke-width="3.3"/>
<circle cx="1955.8" cy="1796.1" r="6" fill="#A8A8A8"/>
<circle cx="1945.5" cy="1807.2" r="6" fill="#A8A8A8"/>
<circle cx="1942.9" cy="1814.1" r="6" fill="#A8A8A8"/>
<circle cx="1951.9" cy="1814.6" r="6" fill="#A8A8A8"/>
<circle cx="1960.9" cy="1812.8" r="6" fill="#A8A8A8"/>
<circle cx="1966.1" cy="1811.5" r="6" fill="#A8A8A8"/>
<line x1="1939.1" y1="1811.5" x2="1972.5" y2="1811.5" stroke="#000" stroke-width="3.3"/>
<line x1="1955.3" y1="1807.2" x2="1955.3" y2="1814.6" stroke="#000" stroke-width="3.3"/>
<line x1="1946.0" y1="1807.2" x2="1964.8" y2="1807.2" stroke="#000" stroke-width="3.3"/>
<line x1="1946.0" y1="1814.6" x2="1964.8" y2="1814.6" stroke="#000" stroke-width="3.3"/>
<text x="1807.0" y="1843.5" font-size="27.3" text-anchor="end" transform="rotate(-45 1807.0 1843.5)">rmIL-12</text>
<text x="1856.8" y="1843.5" font-size="27.3" text-anchor="end" transform="rotate(-45 1856.8 1843.5)">WT</text>
<text x="1906.8" y="1843.5" font-size="27.3" text-anchor="end" transform="rotate(-45 1906.8 1843.5)">NHQ</text>
<text x="1956.8" y="1843.5" font-size="27.3" text-anchor="end" transform="rotate(-45 1956.8 1843.5)">control</text>
<line x1="1817.4" y1="1891.8" x2="1872.7" y2="1891.8" stroke="#000" stroke-width="3"/>
<text x="1753.4" y="1929.8" font-size="26" textLength="132.6" lengthAdjust="spacingAndGlyphs">mIL-12hFc</text>
</g>
<g id="panelK">
<text x="-1.0" y="2011.0" font-size="64" style="font-weight:normal;" textLength="43.4" lengthAdjust="spacingAndGlyphs">K</text>
<text x="245.6" y="2018.8" font-size="33" textLength="340.5" lengthAdjust="spacingAndGlyphs">CD4<tspan font-size="31" dy="-10">+</tspan><tspan dy="10"> T effector cells</tspan></text>
<text x="65.4" y="2280.3" font-size="24" transform="rotate(-90 65.4 2280.3)" textLength="213.5" lengthAdjust="spacingAndGlyphs"># cells fold change</text>
<text x="93.7" y="2228.0" font-size="24" transform="rotate(-90 93.7 2228.0)" textLength="109.0" lengthAdjust="spacingAndGlyphs">to control</text>
<line x1="153.4" y1="2066.8" x2="153.4" y2="2266.3" stroke="#000" stroke-width="3.3"/>
<text x="138.5" y="2270.6" font-size="24.5" text-anchor="end">0</text>
<line x1="148.2" y1="2229.0" x2="153.4" y2="2229.0" stroke="#000" stroke-width="3.3"/>
<text x="138.5" y="2235.7" font-size="24.5" text-anchor="end">0.5</text>
<line x1="148.2" y1="2192.2" x2="153.4" y2="2192.2" stroke="#000" stroke-width="3.3"/>
<text x="138.5" y="2199.6" font-size="24.5" text-anchor="end">1.0</text>
<line x1="148.2" y1="2156.0" x2="153.4" y2="2156.0" stroke="#000" stroke-width="3.3"/>
<text x="138.5" y="2163.4" font-size="24.5" text-anchor="end">1.5</text>
<line x1="148.2" y1="2119.3" x2="153.4" y2="2119.3" stroke="#000" stroke-width="3.3"/>
<text x="138.5" y="2129.0" font-size="24.5" text-anchor="end">2.0</text>
<line x1="148.2" y1="2079.3" x2="153.4" y2="2079.3" stroke="#000" stroke-width="3.3"/>
<text x="138.5" y="2087.1" font-size="24.5" text-anchor="end">2.5</text>
<line x1="148.0" y1="2264.7" x2="714.7" y2="2264.7" stroke="#000" stroke-width="3.3"/>
<path d="M211.4 2210.7 L264.9 2210.7 A53.5 53.5 0 0 0 218.1 2157.6 Z" fill="#fff" stroke="#000" stroke-width="3.2" stroke-linejoin="round"/>
<path d="M211.4 2210.7 L218.1 2157.6 A53.5 53.5 0 0 0 160.8 2193.2 Z" fill="#9B9B9B" stroke="#000" stroke-width="3.2" stroke-linejoin="round"/>
<path d="M211.4 2210.7 L160.8 2193.2 A53.5 53.5 0 1 0 264.9 2210.7 Z" fill="#231F20" stroke="#000" stroke-width="3.2" stroke-linejoin="round"/>
<circle cx="211.4" cy="2210.7" r="53.5" fill="none" stroke="#000" stroke-width="3.2"/>
<path d="M361.7 2171.5 L455.4 2171.5 A93.7 93.7 0 0 0 376.0 2078.9 Z" fill="#fff" stroke="#000" stroke-width="3.2" stroke-linejoin="round"/>
<path d="M361.7 2171.5 L376.0 2078.9 A93.7 93.7 0 0 0 268.0 2173.3 Z" fill="#9B9B9B" stroke="#000" stroke-width="3.2" stroke-linejoin="round"/>
<path d="M361.7 2171.5 L268.0 2173.3 A93.7 93.7 0 0 0 455.4 2171.5 Z" fill="#231F20" stroke="#000" stroke-width="3.2" stroke-linejoin="round"/>
<circle cx="361.7" cy="2171.5" r="93.7" fill="none" stroke="#000" stroke-width="3.2"/>
<path d="M539.1 2188.5 L614.7 2188.5 A75.6 75.6 0 0 0 565.0 2117.5 Z" fill="#fff" stroke="#000" stroke-width="3.2" stroke-linejoin="round"/>
<path d="M539.1 2188.5 L565.0 2117.5 A75.6 75.6 0 0 0 463.7 2183.2 Z" fill="#9B9B9B" stroke="#000" stroke-width="3.2" stroke-linejoin="round"/>
<path d="M539.1 2188.5 L463.7 2183.2 A75.6 75.6 0 1 0 614.7 2188.5 Z" fill="#231F20" stroke="#000" stroke-width="3.2" stroke-linejoin="round"/>
<circle cx="539.1" cy="2188.5" r="75.6" fill="none" stroke="#000" stroke-width="3.2"/>
<path d="M655.6 2229.0 L691.8 2229.0 A36.2 36.2 0 0 0 622.3 2214.7 Z" fill="#fff" stroke="#000" stroke-width="3.2" stroke-linejoin="round"/>
<path d="M655.6 2229.0 L622.3 2214.7 A36.2 36.2 0 0 0 637.7 2260.4 Z" fill="#9B9B9B" stroke="#000" stroke-width="3.2" stroke-linejoin="round"/>
<path d="M655.6 2229.0 L637.7 2260.4 A36.2 36.2 0 0 0 691.8 2229.0 Z" fill="#231F20" stroke="#000" stroke-width="3.2" stroke-linejoin="round"/>
<circle cx="655.6" cy="2229.0" r="36.2" fill="none" stroke="#000" stroke-width="3.2"/>
<text x="163.0" y="2295.6" font-size="26" textLength="96.7" lengthAdjust="spacingAndGlyphs">rmIL-12</text>
<text x="335.6" y="2297.7" font-size="26" textLength="40.5" lengthAdjust="spacingAndGlyphs">WT</text>
<text x="512.1" y="2297.7" font-size="26" textLength="60.1" lengthAdjust="spacingAndGlyphs">NHQ</text>
<text x="619.7" y="2299.9" font-size="26" textLength="91.1" lengthAdjust="spacingAndGlyphs">control</text>
<line x1="324.7" y1="2311.7" x2="577.4" y2="2311.7" stroke="#000" stroke-width="2.4"/>
<text x="385.7" y="2342.6" font-size="26" textLength="135.1" lengthAdjust="spacingAndGlyphs">mIL-12hFc</text>
</g><g id="panelL">
<text x="784.4" y="2012.5" font-size="63" style="font-weight:normal;" textLength="35.7" lengthAdjust="spacingAndGlyphs">L</text>
<text x="1078.8" y="2019.5" font-size="33" textLength="91.0" lengthAdjust="spacingAndGlyphs">Tregs</text>
<text x="825.3" y="2276.3" font-size="24" transform="rotate(-90 825.3 2276.3)" textLength="213.5" lengthAdjust="spacingAndGlyphs"># cells fold change</text>
<text x="849.2" y="2223.1" font-size="24" transform="rotate(-90 849.2 2223.1)" textLength="109.0" lengthAdjust="spacingAndGlyphs">to control</text>
<line x1="917.1" y1="2067.5" x2="917.1" y2="2267.8" stroke="#000" stroke-width="3"/>
<text x="901.5" y="2273.0" font-size="23.5" text-anchor="end">0</text>
<line x1="911.2" y1="2222.8" x2="917.1" y2="2222.8" stroke="#000" stroke-width="3"/>
<text x="901.5" y="2231.0" font-size="23.5" text-anchor="end">0.5</text>
<line x1="911.2" y1="2179.3" x2="917.1" y2="2179.3" stroke="#000" stroke-width="3"/>
<text x="901.5" y="2187.5" font-size="23.5" text-anchor="end">1.0</text>
<line x1="911.2" y1="2135.8" x2="917.1" y2="2135.8" stroke="#000" stroke-width="3"/>
<text x="901.5" y="2144.0" font-size="23.5" text-anchor="end">1.5</text>
<line x1="911.2" y1="2092.3" x2="917.1" y2="2092.3" stroke="#000" stroke-width="3"/>
<text x="901.5" y="2100.5" font-size="23.5" text-anchor="end">2.0</text>
<line x1="911.0" y1="2266.3" x2="1376.5" y2="2266.3" stroke="#000" stroke-width="3"/>
<path d="M951.9 2238.1 L980.5 2238.1 A28.6 28.6 0 0 0 934.4 2215.5 Z" fill="#fff" stroke="#000" stroke-width="2.8" stroke-linejoin="round"/>
<path d="M951.9 2238.1 L934.4 2215.5 A28.6 28.6 0 0 0 957.5 2266.1 Z" fill="#9B9B9B" stroke="#000" stroke-width="2.8" stroke-linejoin="round"/>
<path d="M951.9 2238.1 L957.5 2266.1 A28.6 28.6 0 0 0 980.5 2238.1 Z" fill="#231F20" stroke="#000" stroke-width="2.8" stroke-linejoin="round"/>
<circle cx="951.9" cy="2238.1" r="28.6" fill="none" stroke="#000" stroke-width="2.8"/>
<path d="M1047.4 2234.4 L1079.3 2234.4 A31.9 31.9 0 0 0 1031.3 2206.9 Z" fill="#fff" stroke="#000" stroke-width="2.8" stroke-linejoin="round"/>
<path d="M1047.4 2234.4 L1031.3 2206.9 A31.9 31.9 0 0 0 1050.0 2266.2 Z" fill="#9B9B9B" stroke="#000" stroke-width="2.8" stroke-linejoin="round"/>
<path d="M1047.4 2234.4 L1050.0 2266.2 A31.9 31.9 0 0 0 1079.3 2234.4 Z" fill="#231F20" stroke="#000" stroke-width="2.8" stroke-linejoin="round"/>
<circle cx="1047.4" cy="2234.4" r="31.9" fill="none" stroke="#000" stroke-width="2.8"/>
<path d="M1153.4 2215.0 L1203.8 2215.0 A50.4 50.4 0 0 0 1122.5 2175.2 Z" fill="#fff" stroke="#000" stroke-width="2.8" stroke-linejoin="round"/>
<path d="M1153.4 2215.0 L1122.5 2175.2 A50.4 50.4 0 0 0 1165.5 2263.9 Z" fill="#9B9B9B" stroke="#000" stroke-width="2.8" stroke-linejoin="round"/>
<path d="M1153.4 2215.0 L1165.5 2263.9 A50.4 50.4 0 0 0 1203.8 2215.0 Z" fill="#231F20" stroke="#000" stroke-width="2.8" stroke-linejoin="round"/>
<circle cx="1153.4" cy="2215.0" r="50.4" fill="none" stroke="#000" stroke-width="2.8"/>
<path d="M1265.3 2223.4 L1309.0 2223.4 A43.7 43.7 0 1 0 1224.3 2238.5 Z" fill="#fff" stroke="#000" stroke-width="2.8" stroke-linejoin="round"/>
<path d="M1265.3 2223.4 L1224.3 2238.5 A43.7 43.7 0 0 0 1298.6 2251.7 Z" fill="#9B9B9B" stroke="#000" stroke-width="2.8" stroke-linejoin="round"/>
<path d="M1265.3 2223.4 L1298.6 2251.7 A43.7 43.7 0 0 0 1309.0 2223.4 Z" fill="#231F20" stroke="#000" stroke-width="2.8" stroke-linejoin="round"/>
<circle cx="1265.3" cy="2223.4" r="43.7" fill="none" stroke="#000" stroke-width="2.8"/>
<text x="915.4" y="2301.3" font-size="26" textLength="98.4" lengthAdjust="spacingAndGlyphs">rmIL-12</text>
<text x="1039.4" y="2301.3" font-size="26" textLength="44.9" lengthAdjust="spacingAndGlyphs">WT</text>
<text x="1126.8" y="2301.3" font-size="26" textLength="60.2" lengthAdjust="spacingAndGlyphs">NHQ</text>
<text x="1225.5" y="2301.3" font-size="26" textLength="91.0" lengthAdjust="spacingAndGlyphs">control</text>
<line x1="1030.8" y1="2312.3" x2="1188.3" y2="2312.3" stroke="#000" stroke-width="2.4"/>
<text x="1040.5" y="2348.3" font-size="26" textLength="134.4" lengthAdjust="spacingAndGlyphs">mIL-12hFc</text>
</g><g id="panelM">
<text x="1360.2" y="2011.0" font-size="63" style="font-weight:normal;" textLength="51.7" lengthAdjust="spacingAndGlyphs">M</text>
<text x="1652.1" y="2023.5" font-size="33" textLength="205.0" lengthAdjust="spacingAndGlyphs">CD8<tspan font-size="31" dy="-10">+</tspan><tspan dy="10"> T cells</tspan></text>
<text x="1418.2" y="2279.3" font-size="24" transform="rotate(-90 1418.2 2279.3)" textLength="214.3" lengthAdjust="spacingAndGlyphs"># cells fold change</text>
<text x="1447.0" y="2226.4" font-size="24" transform="rotate(-90 1447.0 2226.4)" textLength="108.4" lengthAdjust="spacingAndGlyphs">to control</text>
<line x1="1502.5" y1="2067.7" x2="1502.5" y2="2267.7" stroke="#000" stroke-width="3"/>
<text x="1487.0" y="2272.9" font-size="23.5" text-anchor="end">0</text>
<line x1="1496.0" y1="2222.8" x2="1502.5" y2="2222.8" stroke="#000" stroke-width="3"/>
<text x="1487.0" y="2231.0" font-size="23.5" text-anchor="end">0.5</text>
<line x1="1496.0" y1="2179.4" x2="1502.5" y2="2179.4" stroke="#000" stroke-width="3"/>
<text x="1487.0" y="2187.6" font-size="23.5" text-anchor="end">1.0</text>
<line x1="1496.0" y1="2136.0" x2="1502.5" y2="2136.0" stroke="#000" stroke-width="3"/>
<text x="1487.0" y="2144.2" font-size="23.5" text-anchor="end">1.5</text>
<line x1="1496.0" y1="2092.6" x2="1502.5" y2="2092.6" stroke="#000" stroke-width="3"/>
<text x="1487.0" y="2100.8" font-size="23.5" text-anchor="end">2.0</text>
<line x1="1496.0" y1="2266.2" x2="1992.0" y2="2266.2" stroke="#000" stroke-width="3"/>
<path d="M1575.0 2198.5 L1642.4 2198.5 A67.4 67.4 0 0 0 1535.3 2144.0 Z" fill="#fff" stroke="#000" stroke-width="3.2" stroke-linejoin="round"/>
<path d="M1575.0 2198.5 L1535.3 2144.0 A67.4 67.4 0 0 0 1517.0 2232.8 Z" fill="#9B9B9B" stroke="#000" stroke-width="3.2" stroke-linejoin="round"/>
<path d="M1575.0 2198.5 L1517.0 2232.8 A67.4 67.4 0 0 0 1642.4 2198.5 Z" fill="#000" stroke="#000" stroke-width="3.2" stroke-linejoin="round"/>
<circle cx="1575.0" cy="2198.5" r="67.4" fill="none" stroke="#000" stroke-width="3.2"/>
<path d="M1706.3 2210.6 L1761.9 2210.6 A55.6 55.6 0 0 0 1665.6 2172.8 Z" fill="#fff" stroke="#000" stroke-width="3.2" stroke-linejoin="round"/>
<path d="M1706.3 2210.6 L1665.6 2172.8 A55.6 55.6 0 0 0 1675.1 2256.6 Z" fill="#9B9B9B" stroke="#000" stroke-width="3.2" stroke-linejoin="round"/>
<path d="M1706.3 2210.6 L1675.1 2256.6 A55.6 55.6 0 0 0 1761.9 2210.6 Z" fill="#000" stroke="#000" stroke-width="3.2" stroke-linejoin="round"/>
<circle cx="1706.3" cy="2210.6" r="55.6" fill="none" stroke="#000" stroke-width="3.2"/>
<path d="M1833.8 2207.8 L1892.5 2207.8 A58.7 58.7 0 0 0 1804.5 2156.9 Z" fill="#fff" stroke="#000" stroke-width="3.2" stroke-linejoin="round"/>
<path d="M1833.8 2207.8 L1804.5 2156.9 A58.7 58.7 0 0 0 1802.7 2257.6 Z" fill="#9B9B9B" stroke="#000" stroke-width="3.2" stroke-linejoin="round"/>
<path d="M1833.8 2207.8 L1802.7 2257.6 A58.7 58.7 0 0 0 1892.5 2207.8 Z" fill="#000" stroke="#000" stroke-width="3.2" stroke-linejoin="round"/>
<circle cx="1833.8" cy="2207.8" r="58.7" fill="none" stroke="#000" stroke-width="3.2"/>
<path d="M1943.4 2223.5 L1986.7 2223.5 A43.3 43.3 0 1 0 1900.4 2228.9 Z" fill="#fff" stroke="#000" stroke-width="3.2" stroke-linejoin="round"/>
<path d="M1943.4 2223.5 L1900.4 2228.9 A43.3 43.3 0 0 0 1936.4 2266.2 Z" fill="#9B9B9B" stroke="#000" stroke-width="3.2" stroke-linejoin="round"/>
<path d="M1943.4 2223.5 L1936.4 2266.2 A43.3 43.3 0 0 0 1986.7 2223.5 Z" fill="#000" stroke="#000" stroke-width="3.2" stroke-linejoin="round"/>
<circle cx="1943.4" cy="2223.5" r="43.3" fill="none" stroke="#000" stroke-width="3.2"/>
<text x="1517.1" y="2298.2" font-size="26" textLength="98.2" lengthAdjust="spacingAndGlyphs">rmIL-12</text>
<text x="1683.3" y="2298.2" font-size="26" textLength="44.2" lengthAdjust="spacingAndGlyphs">WT</text>
<text x="1804.2" y="2298.2" font-size="26" textLength="61.2" lengthAdjust="spacingAndGlyphs">NHQ</text>
<text x="1900.6" y="2298.2" font-size="26" textLength="90.7" lengthAdjust="spacingAndGlyphs">control</text>
<line x1="1673.7" y1="2307.7" x2="1872.8" y2="2307.7" stroke="#000" stroke-width="2.4"/>
<text x="1703.4" y="2345.4" font-size="26" textLength="135.6" lengthAdjust="spacingAndGlyphs">mIL-12hFc</text>
</g><g id="legend">
<text x="660.5" y="2398.2" font-size="34" textLength="293.3" lengthAdjust="spacingAndGlyphs">effector cytokines</text>
<rect x="980.8" y="2373.2" width="28.5" height="29.0" fill="#fff" stroke="#000" stroke-width="3"/>
<text x="1032.8" y="2398.2" font-size="34" textLength="20.6" lengthAdjust="spacingAndGlyphs">0</text>
<rect x="1079.4" y="2373.2" width="30.0" height="29.0" fill="#808080" stroke="#000" stroke-width="3"/>
<text x="1132.9" y="2398.2" font-size="34" textLength="74.4" lengthAdjust="spacingAndGlyphs">IFNγ</text>
<rect x="1226.8" y="2371.7" width="33.0" height="32.0" fill="#000"/>
<text x="1279.3" y="2398.2" font-size="34" textLength="195.8" lengthAdjust="spacingAndGlyphs">IFNγ + TNFα</text>
</g>
</svg>
</body></html>
